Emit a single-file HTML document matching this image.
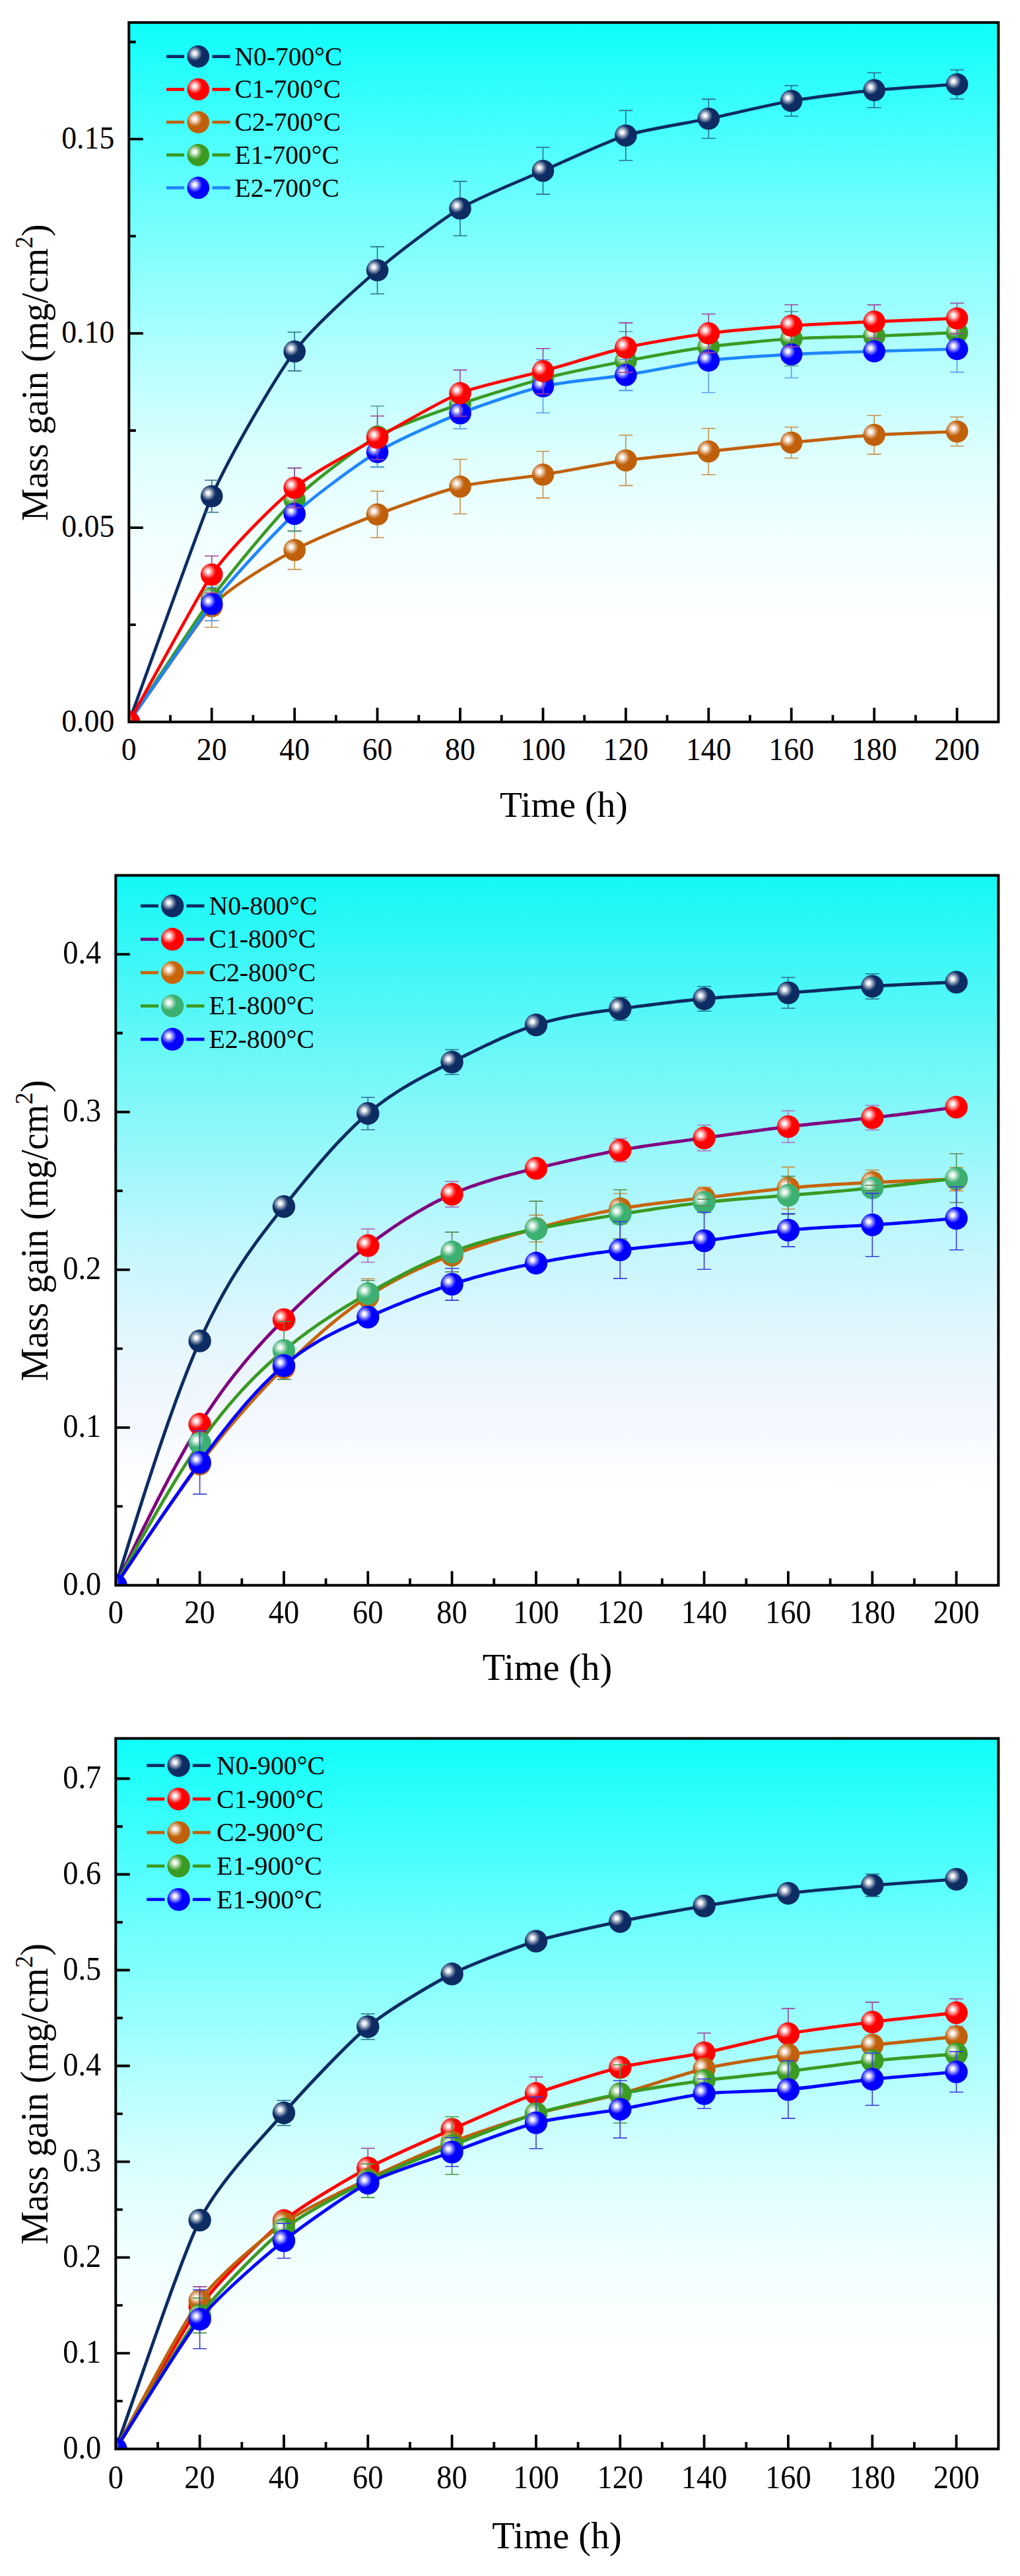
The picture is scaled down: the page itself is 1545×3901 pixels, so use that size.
<!DOCTYPE html>
<html lang="en"><head><meta charset="utf-8"><title>Mass gain vs time</title>
<style>html,body{margin:0;padding:0;background:#fff}svg{display:block}</style></head>
<body>
<svg width="1545" height="3901" viewBox="0 0 1545 3901">
<defs>
<linearGradient id="bg1" x1="0" y1="0" x2="0" y2="1"><stop offset="0" stop-color="rgb(14,254,250)"/><stop offset="0.25" stop-color="rgb(105,255,253)"/><stop offset="0.5" stop-color="rgb(187,255,254)"/><stop offset="0.63" stop-color="rgb(224,255,254)"/><stop offset="0.72" stop-color="rgb(239,255,255)"/><stop offset="0.8" stop-color="rgb(248,255,255)"/><stop offset="0.86" stop-color="rgb(255,255,255)"/><stop offset="1" stop-color="rgb(255,255,255)"/></linearGradient>
<clipPath id="cl1"><rect x="195.3" y="34.1" width="1317" height="1059.2"/></clipPath>
<radialGradient id="m1N0" cx="0.34" cy="0.36" r="0.34"><stop offset="0" stop-color="#fff"/><stop offset="0.2" stop-color="#fff" stop-opacity="0.95"/><stop offset="0.6" stop-color="#fff" stop-opacity="0.45"/><stop offset="1" stop-color="#fff" stop-opacity="0"/></radialGradient>
<radialGradient id="m1C2" cx="0.34" cy="0.36" r="0.34"><stop offset="0" stop-color="#fff"/><stop offset="0.2" stop-color="#fff" stop-opacity="0.95"/><stop offset="0.6" stop-color="#fff" stop-opacity="0.45"/><stop offset="1" stop-color="#fff" stop-opacity="0"/></radialGradient>
<radialGradient id="m1E1" cx="0.34" cy="0.36" r="0.34"><stop offset="0" stop-color="#fff"/><stop offset="0.2" stop-color="#fff" stop-opacity="0.95"/><stop offset="0.6" stop-color="#fff" stop-opacity="0.45"/><stop offset="1" stop-color="#fff" stop-opacity="0"/></radialGradient>
<radialGradient id="m1E2" cx="0.34" cy="0.36" r="0.34"><stop offset="0" stop-color="#fff"/><stop offset="0.2" stop-color="#fff" stop-opacity="0.95"/><stop offset="0.6" stop-color="#fff" stop-opacity="0.45"/><stop offset="1" stop-color="#fff" stop-opacity="0"/></radialGradient>
<radialGradient id="m1C1" cx="0.34" cy="0.36" r="0.34"><stop offset="0" stop-color="#fff"/><stop offset="0.2" stop-color="#fff" stop-opacity="0.95"/><stop offset="0.6" stop-color="#fff" stop-opacity="0.45"/><stop offset="1" stop-color="#fff" stop-opacity="0"/></radialGradient>
<linearGradient id="bg2" x1="0" y1="0" x2="0" y2="1"><stop offset="0" stop-color="rgb(18,248,246)"/><stop offset="0.255" stop-color="rgb(108,247,247)"/><stop offset="0.497" stop-color="rgb(188,247,253)"/><stop offset="0.627" stop-color="rgb(222,246,253)"/><stop offset="0.72" stop-color="rgb(239,246,253)"/><stop offset="0.78" stop-color="rgb(245,249,255)"/><stop offset="0.865" stop-color="rgb(255,255,255)"/><stop offset="1" stop-color="rgb(255,255,255)"/></linearGradient>
<clipPath id="cl2"><rect x="175.3" y="1325.6" width="1337" height="1075.1"/></clipPath>
<radialGradient id="m2N0" cx="0.34" cy="0.36" r="0.34"><stop offset="0" stop-color="#fff"/><stop offset="0.2" stop-color="#fff" stop-opacity="0.95"/><stop offset="0.6" stop-color="#fff" stop-opacity="0.45"/><stop offset="1" stop-color="#fff" stop-opacity="0"/></radialGradient>
<radialGradient id="m2C1" cx="0.34" cy="0.36" r="0.34"><stop offset="0" stop-color="#fff"/><stop offset="0.2" stop-color="#fff" stop-opacity="0.95"/><stop offset="0.6" stop-color="#fff" stop-opacity="0.45"/><stop offset="1" stop-color="#fff" stop-opacity="0"/></radialGradient>
<radialGradient id="m2C2" cx="0.34" cy="0.36" r="0.34"><stop offset="0" stop-color="#fff"/><stop offset="0.2" stop-color="#fff" stop-opacity="0.95"/><stop offset="0.6" stop-color="#fff" stop-opacity="0.45"/><stop offset="1" stop-color="#fff" stop-opacity="0"/></radialGradient>
<radialGradient id="m2E1" cx="0.34" cy="0.36" r="0.34"><stop offset="0" stop-color="#fff"/><stop offset="0.2" stop-color="#fff" stop-opacity="0.95"/><stop offset="0.6" stop-color="#fff" stop-opacity="0.45"/><stop offset="1" stop-color="#fff" stop-opacity="0"/></radialGradient>
<radialGradient id="m2E2" cx="0.34" cy="0.36" r="0.34"><stop offset="0" stop-color="#fff"/><stop offset="0.2" stop-color="#fff" stop-opacity="0.95"/><stop offset="0.6" stop-color="#fff" stop-opacity="0.45"/><stop offset="1" stop-color="#fff" stop-opacity="0"/></radialGradient>
<linearGradient id="bg3" x1="0" y1="0" x2="0" y2="1"><stop offset="0" stop-color="rgb(14,254,250)"/><stop offset="0.25" stop-color="rgb(105,255,253)"/><stop offset="0.5" stop-color="rgb(187,255,254)"/><stop offset="0.63" stop-color="rgb(224,255,254)"/><stop offset="0.72" stop-color="rgb(239,255,255)"/><stop offset="0.8" stop-color="rgb(248,255,255)"/><stop offset="0.86" stop-color="rgb(255,255,255)"/><stop offset="1" stop-color="rgb(255,255,255)"/></linearGradient>
<clipPath id="cl3"><rect x="175.3" y="2632.6" width="1337" height="1076"/></clipPath>
<radialGradient id="m3N0" cx="0.34" cy="0.36" r="0.34"><stop offset="0" stop-color="#fff"/><stop offset="0.2" stop-color="#fff" stop-opacity="0.95"/><stop offset="0.6" stop-color="#fff" stop-opacity="0.45"/><stop offset="1" stop-color="#fff" stop-opacity="0"/></radialGradient>
<radialGradient id="m3C1" cx="0.34" cy="0.36" r="0.34"><stop offset="0" stop-color="#fff"/><stop offset="0.2" stop-color="#fff" stop-opacity="0.95"/><stop offset="0.6" stop-color="#fff" stop-opacity="0.45"/><stop offset="1" stop-color="#fff" stop-opacity="0"/></radialGradient>
<radialGradient id="m3C2" cx="0.34" cy="0.36" r="0.34"><stop offset="0" stop-color="#fff"/><stop offset="0.2" stop-color="#fff" stop-opacity="0.95"/><stop offset="0.6" stop-color="#fff" stop-opacity="0.45"/><stop offset="1" stop-color="#fff" stop-opacity="0"/></radialGradient>
<radialGradient id="m3E1" cx="0.34" cy="0.36" r="0.34"><stop offset="0" stop-color="#fff"/><stop offset="0.2" stop-color="#fff" stop-opacity="0.95"/><stop offset="0.6" stop-color="#fff" stop-opacity="0.45"/><stop offset="1" stop-color="#fff" stop-opacity="0"/></radialGradient>
<radialGradient id="m3E2" cx="0.34" cy="0.36" r="0.34"><stop offset="0" stop-color="#fff"/><stop offset="0.2" stop-color="#fff" stop-opacity="0.95"/><stop offset="0.6" stop-color="#fff" stop-opacity="0.45"/><stop offset="1" stop-color="#fff" stop-opacity="0"/></radialGradient>
</defs>
<rect width="1545" height="3901" fill="#fff"/>
<g id="chart1">
<rect x="195.3" y="34.1" width="1317" height="1059.2" fill="url(#bg1)"/>
<g clip-path="url(#cl1)">
<path d="M195.3 1093.3C224.6 1013.5 307.6 781 320.7 751.5C350 686 416.9 572.2 446.2 532.3C475.4 492.4 542.3 434.6 571.6 409.3C600.9 384 667.8 333.4 697 315.8C726.3 298.2 793.2 271.6 822.5 258.7C851.7 245.8 918.6 214.4 947.9 205.2C977.1 196 1044 185.9 1073.3 179.8C1102.6 173.7 1169.5 157.8 1198.7 152.8C1228 147.8 1294.9 139.5 1324.2 136.6C1353.4 133.7 1420.3 129.8 1449.6 127.7" fill="none" stroke="#0c2c63" stroke-width="4.7" stroke-linejoin="round"/>
<circle cx="195.3" cy="1093.3" r="16.8" fill="#0c2c63"/><circle cx="195.3" cy="1093.3" r="16.8" fill="url(#m1N0)"/>
<circle cx="320.7" cy="751.5" r="16.8" fill="#0c2c63"/><circle cx="320.7" cy="751.5" r="16.8" fill="url(#m1N0)"/>
<circle cx="446.2" cy="532.3" r="16.8" fill="#0c2c63"/><circle cx="446.2" cy="532.3" r="16.8" fill="url(#m1N0)"/>
<circle cx="571.6" cy="409.3" r="16.8" fill="#0c2c63"/><circle cx="571.6" cy="409.3" r="16.8" fill="url(#m1N0)"/>
<circle cx="697" cy="315.8" r="16.8" fill="#0c2c63"/><circle cx="697" cy="315.8" r="16.8" fill="url(#m1N0)"/>
<circle cx="822.5" cy="258.7" r="16.8" fill="#0c2c63"/><circle cx="822.5" cy="258.7" r="16.8" fill="url(#m1N0)"/>
<circle cx="947.9" cy="205.2" r="16.8" fill="#0c2c63"/><circle cx="947.9" cy="205.2" r="16.8" fill="url(#m1N0)"/>
<circle cx="1073.3" cy="179.8" r="16.8" fill="#0c2c63"/><circle cx="1073.3" cy="179.8" r="16.8" fill="url(#m1N0)"/>
<circle cx="1198.7" cy="152.8" r="16.8" fill="#0c2c63"/><circle cx="1198.7" cy="152.8" r="16.8" fill="url(#m1N0)"/>
<circle cx="1324.2" cy="136.6" r="16.8" fill="#0c2c63"/><circle cx="1324.2" cy="136.6" r="16.8" fill="url(#m1N0)"/>
<circle cx="1449.6" cy="127.7" r="16.8" fill="#0c2c63"/><circle cx="1449.6" cy="127.7" r="16.8" fill="url(#m1N0)"/>
<path d="M320.7 727.3V735.2M320.7 767.8V775.7M310.2 727.3H331.2M310.2 775.7H331.2M446.2 503V516M446.2 548.6V561.6M435.7 503H456.7M435.7 561.6H456.7M571.6 373.6V393M571.6 425.6V445M561.1 373.6H582.1M561.1 445H582.1M697 274.6V299.5M697 332.1V357M686.5 274.6H707.5M686.5 357H707.5M822.5 223.3V242.4M822.5 275V294.1M812 223.3H833M812 294.1H833M947.9 167.4V188.9M947.9 221.5V243M937.4 167.4H958.4M937.4 243H958.4M1073.3 150.1V163.5M1073.3 196.1V209.5M1062.8 150.1H1083.8M1062.8 209.5H1083.8M1198.7 129.6V136.5M1198.7 169.1V176M1188.2 129.6H1209.2M1188.2 176H1209.2M1324.2 110.2V120.3M1324.2 152.9V163M1313.7 110.2H1334.7M1313.7 163H1334.7M1449.6 105.7V111.4M1449.6 144V149.7M1439.1 105.7H1460.1M1439.1 149.7H1460.1" fill="none" stroke="#2a6f8c" stroke-width="1.6"/>
<path d="M195.3 1093.3C224.6 1052.4 307.6 931.7 320.7 918C350 887.6 416.9 849.2 446.2 833C475.4 816.8 542.3 790.2 571.6 779C600.9 767.8 667.8 743.9 697 736.9C726.3 729.9 793.2 723.4 822.5 718.8C851.7 714.2 918.6 701.3 947.9 697.2C977.1 693.1 1044 686.9 1073.3 683.7C1102.6 680.6 1169.5 673.1 1198.7 670.2C1228 667.3 1294.9 660.5 1324.2 658.6C1353.4 656.7 1420.3 654.7 1449.6 653.5" fill="none" stroke="#c0600a" stroke-width="4.7" stroke-linejoin="round"/>
<circle cx="195.3" cy="1093.3" r="16.8" fill="#c0600a"/><circle cx="195.3" cy="1093.3" r="16.8" fill="url(#m1C2)"/>
<circle cx="320.7" cy="918" r="16.8" fill="#c0600a"/><circle cx="320.7" cy="918" r="16.8" fill="url(#m1C2)"/>
<circle cx="446.2" cy="833" r="16.8" fill="#c0600a"/><circle cx="446.2" cy="833" r="16.8" fill="url(#m1C2)"/>
<circle cx="571.6" cy="779" r="16.8" fill="#c0600a"/><circle cx="571.6" cy="779" r="16.8" fill="url(#m1C2)"/>
<circle cx="697" cy="736.9" r="16.8" fill="#c0600a"/><circle cx="697" cy="736.9" r="16.8" fill="url(#m1C2)"/>
<circle cx="822.5" cy="718.8" r="16.8" fill="#c0600a"/><circle cx="822.5" cy="718.8" r="16.8" fill="url(#m1C2)"/>
<circle cx="947.9" cy="697.2" r="16.8" fill="#c0600a"/><circle cx="947.9" cy="697.2" r="16.8" fill="url(#m1C2)"/>
<circle cx="1073.3" cy="683.7" r="16.8" fill="#c0600a"/><circle cx="1073.3" cy="683.7" r="16.8" fill="url(#m1C2)"/>
<circle cx="1198.7" cy="670.2" r="16.8" fill="#c0600a"/><circle cx="1198.7" cy="670.2" r="16.8" fill="url(#m1C2)"/>
<circle cx="1324.2" cy="658.6" r="16.8" fill="#c0600a"/><circle cx="1324.2" cy="658.6" r="16.8" fill="url(#m1C2)"/>
<circle cx="1449.6" cy="653.5" r="16.8" fill="#c0600a"/><circle cx="1449.6" cy="653.5" r="16.8" fill="url(#m1C2)"/>
<path d="M320.7 886V901.7M320.7 934.3V950M310.2 886H331.2M310.2 950H331.2M446.2 803.6V816.7M446.2 849.3V862.4M435.7 803.6H456.7M435.7 862.4H456.7M571.6 743.7V762.7M571.6 795.3V814.3M561.1 743.7H582.1M561.1 814.3H582.1M697 695.5V720.6M697 753.2V778.3M686.5 695.5H707.5M686.5 778.3H707.5M822.5 683.5V702.5M822.5 735.1V754.1M812 683.5H833M812 754.1H833M947.9 659V680.9M947.9 713.5V735.4M937.4 659H958.4M937.4 735.4H958.4M1073.3 648.7V667.4M1073.3 700V718.7M1062.8 648.7H1083.8M1062.8 718.7H1083.8M1198.7 646.7V653.9M1198.7 686.5V693.7M1188.2 646.7H1209.2M1188.2 693.7H1209.2M1324.2 629.3V642.3M1324.2 674.9V687.9M1313.7 629.3H1334.7M1313.7 687.9H1334.7M1449.6 631.5V637.2M1449.6 669.8V675.5M1439.1 631.5H1460.1M1439.1 675.5H1460.1" fill="none" stroke="#c89048" stroke-width="1.6"/>
<path d="M195.3 1093.3C224.6 1049.5 307.6 923.4 320.7 905.7C350 866.4 416.9 785.1 446.2 756.6C475.4 728.1 542.3 677.9 571.6 661C600.9 644.1 667.8 622.2 697 612C726.3 601.8 793.2 581.1 822.5 573.5C851.7 565.9 918.6 552.4 947.9 546.8C977.1 541.2 1044 529.1 1073.3 525.2C1102.6 521.3 1169.5 514.9 1198.7 513C1228 511.1 1294.9 510.1 1324.2 509C1353.4 507.9 1420.3 504.9 1449.6 503.7" fill="none" stroke="#3a9a22" stroke-width="4.7" stroke-linejoin="round"/>
<circle cx="195.3" cy="1093.3" r="16.8" fill="#3a9a22"/><circle cx="195.3" cy="1093.3" r="16.8" fill="url(#m1E1)"/>
<circle cx="320.7" cy="905.7" r="16.8" fill="#3a9a22"/><circle cx="320.7" cy="905.7" r="16.8" fill="url(#m1E1)"/>
<circle cx="446.2" cy="756.6" r="16.8" fill="#3a9a22"/><circle cx="446.2" cy="756.6" r="16.8" fill="url(#m1E1)"/>
<circle cx="571.6" cy="661" r="16.8" fill="#3a9a22"/><circle cx="571.6" cy="661" r="16.8" fill="url(#m1E1)"/>
<circle cx="697" cy="612" r="16.8" fill="#3a9a22"/><circle cx="697" cy="612" r="16.8" fill="url(#m1E1)"/>
<circle cx="822.5" cy="573.5" r="16.8" fill="#3a9a22"/><circle cx="822.5" cy="573.5" r="16.8" fill="url(#m1E1)"/>
<circle cx="947.9" cy="546.8" r="16.8" fill="#3a9a22"/><circle cx="947.9" cy="546.8" r="16.8" fill="url(#m1E1)"/>
<circle cx="1073.3" cy="525.2" r="16.8" fill="#3a9a22"/><circle cx="1073.3" cy="525.2" r="16.8" fill="url(#m1E1)"/>
<circle cx="1198.7" cy="513" r="16.8" fill="#3a9a22"/><circle cx="1198.7" cy="513" r="16.8" fill="url(#m1E1)"/>
<circle cx="1324.2" cy="509" r="16.8" fill="#3a9a22"/><circle cx="1324.2" cy="509" r="16.8" fill="url(#m1E1)"/>
<circle cx="1449.6" cy="503.7" r="16.8" fill="#3a9a22"/><circle cx="1449.6" cy="503.7" r="16.8" fill="url(#m1E1)"/>
<path d="M320.7 871.7V889.4M320.7 922V939.7M310.2 871.7H331.2M310.2 939.7H331.2M446.2 708.6V740.3M446.2 772.9V804.6M435.7 708.6H456.7M435.7 804.6H456.7M571.6 615V644.7M571.6 677.3V707M561.1 615H582.1M561.1 707H582.1M947.9 502.2V530.5M947.9 563.1V591.4M937.4 502.2H958.4M937.4 591.4H958.4M1198.7 471.7V496.7M1198.7 529.3V554.3M1188.2 471.7H1209.2M1188.2 554.3H1209.2" fill="none" stroke="#4aa09a" stroke-width="1.6"/>
<path d="M195.3 1093.3C224.6 1051.6 307.6 931.1 320.7 914.6C350 877.8 416.9 805 446.2 778.2C475.4 751.4 542.3 702.4 571.6 684.6C600.9 666.8 667.8 637.6 697 626C726.3 614.4 793.2 591.8 822.5 585C851.7 578.2 918.6 572.4 947.9 567.9C977.1 563.4 1044 549.7 1073.3 546.1C1102.6 542.5 1169.5 538.3 1198.7 536.7C1228 535.1 1294.9 532.9 1324.2 532C1353.4 531.1 1420.3 529.4 1449.6 528.6" fill="none" stroke="#1e86ff" stroke-width="4.7" stroke-linejoin="round"/>
<circle cx="195.3" cy="1093.3" r="16.8" fill="#0000ff"/><circle cx="195.3" cy="1093.3" r="16.8" fill="url(#m1E2)"/>
<circle cx="320.7" cy="914.6" r="16.8" fill="#0000ff"/><circle cx="320.7" cy="914.6" r="16.8" fill="url(#m1E2)"/>
<circle cx="446.2" cy="778.2" r="16.8" fill="#0000ff"/><circle cx="446.2" cy="778.2" r="16.8" fill="url(#m1E2)"/>
<circle cx="571.6" cy="684.6" r="16.8" fill="#0000ff"/><circle cx="571.6" cy="684.6" r="16.8" fill="url(#m1E2)"/>
<circle cx="697" cy="626" r="16.8" fill="#0000ff"/><circle cx="697" cy="626" r="16.8" fill="url(#m1E2)"/>
<circle cx="822.5" cy="585" r="16.8" fill="#0000ff"/><circle cx="822.5" cy="585" r="16.8" fill="url(#m1E2)"/>
<circle cx="947.9" cy="567.9" r="16.8" fill="#0000ff"/><circle cx="947.9" cy="567.9" r="16.8" fill="url(#m1E2)"/>
<circle cx="1073.3" cy="546.1" r="16.8" fill="#0000ff"/><circle cx="1073.3" cy="546.1" r="16.8" fill="url(#m1E2)"/>
<circle cx="1198.7" cy="536.7" r="16.8" fill="#0000ff"/><circle cx="1198.7" cy="536.7" r="16.8" fill="url(#m1E2)"/>
<circle cx="1324.2" cy="532" r="16.8" fill="#0000ff"/><circle cx="1324.2" cy="532" r="16.8" fill="url(#m1E2)"/>
<circle cx="1449.6" cy="528.6" r="16.8" fill="#0000ff"/><circle cx="1449.6" cy="528.6" r="16.8" fill="url(#m1E2)"/>
<path d="M320.7 889.2V898.3M320.7 930.9V940M310.2 889.2H331.2M310.2 940H331.2M571.6 661.6V668.3M571.6 700.9V707.6M561.1 661.6H582.1M561.1 707.6H582.1M697 602.6V609.7M697 642.3V649.4M686.5 602.6H707.5M686.5 649.4H707.5M822.5 544.7V568.7M822.5 601.3V625.3M812 544.7H833M812 625.3H833M947.9 544.4V551.6M947.9 584.2V591.4M937.4 544.4H958.4M937.4 591.4H958.4M1073.3 497.7V529.8M1073.3 562.4V594.5M1062.8 497.7H1083.8M1062.8 594.5H1083.8M1198.7 501.1V520.4M1198.7 553V572.3M1188.2 501.1H1209.2M1188.2 572.3H1209.2M1449.6 493.6V512.3M1449.6 544.9V563.6M1439.1 493.6H1460.1M1439.1 563.6H1460.1" fill="none" stroke="#5a9cf0" stroke-width="1.6"/>
<path d="M195.3 1093.3C224.6 1041.2 307.6 888.6 320.7 870C350 828.6 416.9 762.9 446.2 738.7C475.4 714.6 542.3 679.7 571.6 663C600.9 646.3 667.8 607.2 697 595.4C726.3 583.6 793.2 570.1 822.5 562.1C851.7 554.1 918.6 533.1 947.9 526.4C977.1 519.7 1044 508.7 1073.3 504.8C1102.6 500.9 1169.5 495.4 1198.7 493.3C1228 491.2 1294.9 488.4 1324.2 487.1C1353.4 485.8 1420.3 483.3 1449.6 482.2" fill="none" stroke="#ff0000" stroke-width="4.7" stroke-linejoin="round"/>
<circle cx="195.3" cy="1093.3" r="16.8" fill="#ff0000"/><circle cx="195.3" cy="1093.3" r="16.8" fill="url(#m1C1)"/>
<circle cx="320.7" cy="870" r="16.8" fill="#ff0000"/><circle cx="320.7" cy="870" r="16.8" fill="url(#m1C1)"/>
<circle cx="446.2" cy="738.7" r="16.8" fill="#ff0000"/><circle cx="446.2" cy="738.7" r="16.8" fill="url(#m1C1)"/>
<circle cx="571.6" cy="663" r="16.8" fill="#ff0000"/><circle cx="571.6" cy="663" r="16.8" fill="url(#m1C1)"/>
<circle cx="697" cy="595.4" r="16.8" fill="#ff0000"/><circle cx="697" cy="595.4" r="16.8" fill="url(#m1C1)"/>
<circle cx="822.5" cy="562.1" r="16.8" fill="#ff0000"/><circle cx="822.5" cy="562.1" r="16.8" fill="url(#m1C1)"/>
<circle cx="947.9" cy="526.4" r="16.8" fill="#ff0000"/><circle cx="947.9" cy="526.4" r="16.8" fill="url(#m1C1)"/>
<circle cx="1073.3" cy="504.8" r="16.8" fill="#ff0000"/><circle cx="1073.3" cy="504.8" r="16.8" fill="url(#m1C1)"/>
<circle cx="1198.7" cy="493.3" r="16.8" fill="#ff0000"/><circle cx="1198.7" cy="493.3" r="16.8" fill="url(#m1C1)"/>
<circle cx="1324.2" cy="487.1" r="16.8" fill="#ff0000"/><circle cx="1324.2" cy="487.1" r="16.8" fill="url(#m1C1)"/>
<circle cx="1449.6" cy="482.2" r="16.8" fill="#ff0000"/><circle cx="1449.6" cy="482.2" r="16.8" fill="url(#m1C1)"/>
<path d="M320.7 842V853.7M320.7 886.3V898M310.2 842H331.2M310.2 898H331.2M446.2 708.7V722.4M446.2 755V768.7M435.7 708.7H456.7M435.7 768.7H456.7M571.6 630V646.7M571.6 679.3V696M561.1 630H582.1M561.1 696H582.1M697 560.4V579.1M697 611.7V630.4M686.5 560.4H707.5M686.5 630.4H707.5M822.5 527.7V545.8M822.5 578.4V596.5M812 527.7H833M812 596.5H833M947.9 488.9V510.1M947.9 542.7V563.9M937.4 488.9H958.4M937.4 563.9H958.4M1073.3 475.5V488.5M1073.3 521.1V534.1M1062.8 475.5H1083.8M1062.8 534.1H1083.8M1198.7 461.5V477M1198.7 509.6V525.1M1188.2 461.5H1209.2M1188.2 525.1H1209.2M1324.2 461.6V470.8M1324.2 503.4V512.6M1313.7 461.6H1334.7M1313.7 512.6H1334.7M1449.6 459V465.9M1449.6 498.5V505.4M1439.1 459H1460.1M1439.1 505.4H1460.1" fill="none" stroke="#a0409c" stroke-width="1.6"/>
</g>
<rect x="195.3" y="34.1" width="1317" height="1059.2" fill="none" stroke="#000" stroke-width="4.0"/>
<path d="M258 1093.3v-10.5M320.7 1093.3v-21.5M383.4 1093.3v-10.5M446.2 1093.3v-21.5M508.9 1093.3v-10.5M571.6 1093.3v-21.5M634.3 1093.3v-10.5M697 1093.3v-21.5M759.7 1093.3v-10.5M822.5 1093.3v-21.5M885.2 1093.3v-10.5M947.9 1093.3v-21.5M1010.6 1093.3v-10.5M1073.3 1093.3v-21.5M1136 1093.3v-10.5M1198.7 1093.3v-21.5M1261.5 1093.3v-10.5M1324.2 1093.3v-21.5M1386.9 1093.3v-10.5M1449.6 1093.3v-21.5M195.3 799.1h21.5M195.3 504.9h21.5M195.3 210.6h21.5M195.3 946.2h10.5M195.3 652h10.5M195.3 357.7h10.5M195.3 63.5h10.5" fill="none" stroke="#000" stroke-width="3.8"/>
<g font-family='"Liberation Serif","Times New Roman",serif' font-size="45.8" fill="#000">
<text transform="translate(195.3 1150.6) scale(1 1.08)" text-anchor="middle">0</text>
<text transform="translate(320.7 1150.6) scale(1 1.08)" text-anchor="middle">20</text>
<text transform="translate(446.2 1150.6) scale(1 1.08)" text-anchor="middle">40</text>
<text transform="translate(571.6 1150.6) scale(1 1.08)" text-anchor="middle">60</text>
<text transform="translate(697 1150.6) scale(1 1.08)" text-anchor="middle">80</text>
<text transform="translate(822.5 1150.6) scale(1 1.08)" text-anchor="middle">100</text>
<text transform="translate(947.9 1150.6) scale(1 1.08)" text-anchor="middle">120</text>
<text transform="translate(1073.3 1150.6) scale(1 1.08)" text-anchor="middle">140</text>
<text transform="translate(1198.7 1150.6) scale(1 1.08)" text-anchor="middle">160</text>
<text transform="translate(1324.2 1150.6) scale(1 1.08)" text-anchor="middle">180</text>
<text transform="translate(1449.6 1150.6) scale(1 1.08)" text-anchor="middle">200</text>
<text transform="translate(173.3 1107.5) scale(1 1.08)" text-anchor="end">0.00</text>
<text transform="translate(173.3 813.3) scale(1 1.08)" text-anchor="end">0.05</text>
<text transform="translate(173.3 519.1) scale(1 1.08)" text-anchor="end">0.10</text>
<text transform="translate(173.3 224.8) scale(1 1.08)" text-anchor="end">0.15</text>
</g>
<text x="853.9" y="1237.2" text-anchor="middle" font-family='"Liberation Serif","Times New Roman",serif' font-size="55.5" fill="#000">Time (h)</text>
<text transform="translate(71.6 564.2) rotate(-90) scale(1 1.04)" text-anchor="middle" font-family='"Liberation Serif","Times New Roman",serif' font-size="55.5" fill="#000">Mass gain (mg/cm<tspan dy="-22" font-size="36.0">2</tspan><tspan dy="22">)</tspan></text>
<g font-family='"Liberation Serif","Times New Roman",serif' font-size="39.5" fill="#000">
<path d="M252 85.6H279.1M321.5 85.6H348.6" stroke="#0c2c63" stroke-width="4.7"/>
<circle cx="300.3" cy="85.6" r="16.8" fill="#0c2c63"/><circle cx="300.3" cy="85.6" r="16.8" fill="url(#m1N0)"/>
<text x="355.5" y="98.7">N0-700°C</text>
<path d="M252 135.3H279.1M321.5 135.3H348.6" stroke="#ff0000" stroke-width="4.7"/>
<circle cx="300.3" cy="135.3" r="16.8" fill="#ff0000"/><circle cx="300.3" cy="135.3" r="16.8" fill="url(#m1C1)"/>
<text x="355.5" y="148.4">C1-700°C</text>
<path d="M252 185H279.1M321.5 185H348.6" stroke="#c0600a" stroke-width="4.7"/>
<circle cx="300.3" cy="185" r="16.8" fill="#c0600a"/><circle cx="300.3" cy="185" r="16.8" fill="url(#m1C2)"/>
<text x="355.5" y="198.1">C2-700°C</text>
<path d="M252 234.7H279.1M321.5 234.7H348.6" stroke="#3a9a22" stroke-width="4.7"/>
<circle cx="300.3" cy="234.7" r="16.8" fill="#3a9a22"/><circle cx="300.3" cy="234.7" r="16.8" fill="url(#m1E1)"/>
<text x="355.5" y="247.8">E1-700°C</text>
<path d="M252 284.4H279.1M321.5 284.4H348.6" stroke="#1e86ff" stroke-width="4.7"/>
<circle cx="300.3" cy="284.4" r="16.8" fill="#0000ff"/><circle cx="300.3" cy="284.4" r="16.8" fill="url(#m1E2)"/>
<text x="355.5" y="297.5">E2-700°C</text>
</g>
</g>
<g id="chart2">
<rect x="175.3" y="1325.6" width="1337" height="1075.1" fill="url(#bg2)"/>
<g clip-path="url(#cl2)">
<path d="M175.3 2400.7L180.6 2383.6L185.9 2366.4L191.2 2349.4L196.5 2332.3L201.8 2315.4L207.1 2298.5L212.4 2281.7L217.7 2265.1L223 2248.6L228.4 2232.3L233.7 2216.1L239 2200.1L244.3 2184.4L249.6 2168.9L254.9 2153.6L260.2 2138.7L265.5 2124L270.8 2109.6L276.1 2095.5L281.4 2081.8L286.7 2068.4L292 2055.4L297.3 2042.8L302.6 2030.6L307.9 2018.8L313.2 2007.5L318.5 1996.5L323.9 1986L329.2 1975.7L334.5 1965.9L339.8 1956.3L345.1 1947.1L350.4 1938.1L355.7 1929.5L361 1921.1L366.3 1912.9L371.6 1904.9L376.9 1897.2L382.2 1889.6L387.5 1882.2L392.8 1875L398.1 1867.9L403.4 1860.9L408.7 1854.1L414 1847.3L419.3 1840.5L424.7 1833.8L430 1827.2L435.3 1820.6L440.6 1814L445.9 1807.4L451.2 1800.8L456.5 1794.3L461.8 1787.8L467.1 1781.4L472.4 1775.1L477.7 1768.8L483 1762.6L488.3 1756.4L493.6 1750.3L498.9 1744.4L504.2 1738.5L509.5 1732.7L514.8 1727L520.2 1721.5L525.5 1716L530.8 1710.7L536.1 1705.5L541.4 1700.5L546.7 1695.6L552 1690.8L557.3 1686.2L562.6 1681.8L567.9 1677.5L573.2 1673.3L578.5 1669.4L583.8 1665.5L589.1 1661.8L594.4 1658.2L599.7 1654.7L605 1651.3L610.3 1648L615.6 1644.8L621 1641.7L626.3 1638.6L631.6 1635.7L636.9 1632.8L642.2 1629.9L647.5 1627.1L652.8 1624.4L658.1 1621.7L663.4 1619L668.7 1616.3L674 1613.7L679.3 1611L684.6 1608.4L689.9 1605.8L695.2 1603.1L700.5 1600.5L705.8 1597.8L711.1 1595.2L716.5 1592.6L721.8 1590L727.1 1587.4L732.4 1584.9L737.7 1582.3L743 1579.9L748.3 1577.4L753.6 1575L758.9 1572.6L764.2 1570.3L769.5 1568L774.8 1565.8L780.1 1563.6L785.4 1561.5L790.7 1559.5L796 1557.5L801.3 1555.6L806.6 1553.8L812 1552.1L817.3 1550.5L822.6 1548.9L827.9 1547.4L833.2 1546L838.5 1544.6L843.8 1543.4L849.1 1542.2L854.4 1541L859.7 1539.9L865 1538.9L870.3 1537.9L875.6 1536.9L880.9 1536L886.2 1535.1L891.5 1534.3L896.8 1533.5L902.1 1532.7L907.4 1532L912.8 1531.2L918.1 1530.5L923.4 1529.8L928.7 1529.1L934 1528.4L939.3 1527.7L944.6 1527L949.9 1526.3L955.2 1525.6L960.5 1524.9L965.8 1524.2L971.1 1523.5L976.4 1522.8L981.7 1522.2L987 1521.5L992.3 1520.8L997.6 1520.1L1002.9 1519.5L1008.3 1518.8L1013.6 1518.2L1018.9 1517.6L1024.2 1516.9L1029.5 1516.3L1034.8 1515.7L1040.1 1515.2L1045.4 1514.6L1050.7 1514L1056 1513.5L1061.3 1513L1066.6 1512.5L1071.9 1512L1077.2 1511.6L1082.5 1511.1L1087.8 1510.7L1093.1 1510.3L1098.4 1509.9L1103.7 1509.5L1109.1 1509.1L1114.4 1508.7L1119.7 1508.4L1125 1508L1130.3 1507.7L1135.6 1507.3L1140.9 1507L1146.2 1506.6L1151.5 1506.3L1156.8 1506L1162.1 1505.6L1167.4 1505.3L1172.7 1504.9L1178 1504.6L1183.3 1504.2L1188.6 1503.9L1193.9 1503.5L1199.2 1503.1L1204.6 1502.7L1209.9 1502.3L1215.2 1501.9L1220.5 1501.5L1225.8 1501.1L1231.1 1500.7L1236.4 1500.3L1241.7 1499.8L1247 1499.4L1252.3 1499L1257.6 1498.5L1262.9 1498.1L1268.2 1497.7L1273.5 1497.3L1278.8 1496.8L1284.1 1496.4L1289.4 1496L1294.7 1495.6L1300 1495.2L1305.4 1494.8L1310.7 1494.4L1316 1494.1L1321.3 1493.7L1326.8 1493.3L1332.3 1493L1337.9 1492.6L1343.4 1492.3L1349 1492L1354.5 1491.7L1360 1491.4L1365.6 1491.1L1371.1 1490.8L1376.6 1490.5L1382.2 1490.3L1387.7 1490L1393.2 1489.7L1398.8 1489.5L1404.3 1489.3L1409.8 1489L1415.4 1488.8L1420.9 1488.5L1426.5 1488.3L1432 1488.1L1437.5 1487.9L1443.1 1487.6L1448.6 1487.4" fill="none" stroke="#0c2c63" stroke-width="4.89" stroke-linejoin="round"/>
<circle cx="175.3" cy="2400.7" r="17.2" fill="#0c2c63"/><circle cx="175.3" cy="2400.7" r="17.2" fill="url(#m2N0)"/>
<circle cx="302.6" cy="2030.6" r="17.2" fill="#0c2c63"/><circle cx="302.6" cy="2030.6" r="17.2" fill="url(#m2N0)"/>
<circle cx="430" cy="1827.2" r="17.2" fill="#0c2c63"/><circle cx="430" cy="1827.2" r="17.2" fill="url(#m2N0)"/>
<circle cx="557.3" cy="1686.2" r="17.2" fill="#0c2c63"/><circle cx="557.3" cy="1686.2" r="17.2" fill="url(#m2N0)"/>
<circle cx="684.6" cy="1608.4" r="17.2" fill="#0c2c63"/><circle cx="684.6" cy="1608.4" r="17.2" fill="url(#m2N0)"/>
<circle cx="812" cy="1552.1" r="17.2" fill="#0c2c63"/><circle cx="812" cy="1552.1" r="17.2" fill="url(#m2N0)"/>
<circle cx="939.3" cy="1527.7" r="17.2" fill="#0c2c63"/><circle cx="939.3" cy="1527.7" r="17.2" fill="url(#m2N0)"/>
<circle cx="1066.6" cy="1512.5" r="17.2" fill="#0c2c63"/><circle cx="1066.6" cy="1512.5" r="17.2" fill="url(#m2N0)"/>
<circle cx="1193.9" cy="1503.5" r="17.2" fill="#0c2c63"/><circle cx="1193.9" cy="1503.5" r="17.2" fill="url(#m2N0)"/>
<circle cx="1321.3" cy="1493.7" r="17.2" fill="#0c2c63"/><circle cx="1321.3" cy="1493.7" r="17.2" fill="url(#m2N0)"/>
<circle cx="1448.6" cy="1487.4" r="17.2" fill="#0c2c63"/><circle cx="1448.6" cy="1487.4" r="17.2" fill="url(#m2N0)"/>
<path d="M557.3 1661.7V1669.5M557.3 1702.9V1710.7M546.8 1661.7H567.8M546.8 1710.7H567.8M684.6 1589.5V1591.7M684.6 1625.1V1627.3M674.1 1589.5H695.1M674.1 1627.3H695.1M939.3 1510.2V1511M939.3 1544.4V1545.2M928.8 1510.2H949.8M928.8 1545.2H949.8M1066.6 1493.8V1495.8M1066.6 1529.2V1531.2M1056.1 1493.8H1077.1M1056.1 1531.2H1077.1M1193.9 1480.3V1486.8M1193.9 1520.2V1526.7M1183.4 1480.3H1204.4M1183.4 1526.7H1204.4M1321.3 1474.7V1477M1321.3 1510.4V1512.7M1310.8 1474.7H1331.8M1310.8 1512.7H1331.8" fill="none" stroke="#2a6f8c" stroke-width="1.6"/>
<path d="M175.3 2400.7L180.6 2389.7L185.9 2378.7L191.2 2367.7L196.5 2356.8L201.8 2345.9L207.1 2335L212.4 2324.2L217.7 2313.4L223 2302.8L228.4 2292.2L233.7 2281.6L239 2271.2L244.3 2260.9L249.6 2250.7L254.9 2240.6L260.2 2230.7L265.5 2220.8L270.8 2211.2L276.1 2201.7L281.4 2192.3L286.7 2183.2L292 2174.2L297.3 2165.4L302.6 2156.8L307.9 2148.4L313.2 2140.2L318.5 2132.3L323.9 2124.5L329.2 2116.8L334.5 2109.4L339.8 2102.1L345.1 2095.1L350.4 2088.1L355.7 2081.3L361 2074.7L366.3 2068.2L371.6 2061.8L376.9 2055.5L382.2 2049.4L387.5 2043.4L392.8 2037.5L398.1 2031.7L403.4 2025.9L408.7 2020.3L414 2014.7L419.3 2009.3L424.7 2003.9L430 1998.5L435.3 1993.2L440.6 1988L445.9 1982.8L451.2 1977.6L456.5 1972.5L461.8 1967.5L467.1 1962.5L472.4 1957.6L477.7 1952.8L483 1948L488.3 1943.2L493.6 1938.5L498.9 1933.8L504.2 1929.2L509.5 1924.7L514.8 1920.2L520.2 1915.8L525.5 1911.4L530.8 1907.1L536.1 1902.8L541.4 1898.6L546.7 1894.5L552 1890.3L557.3 1886.3L562.6 1882.3L567.9 1878.4L573.2 1874.5L578.5 1870.7L583.8 1866.9L589.1 1863.2L594.4 1859.6L599.7 1856L605 1852.5L610.3 1849L615.6 1845.6L621 1842.3L626.3 1839.1L631.6 1835.9L636.9 1832.8L642.2 1829.8L647.5 1826.9L652.8 1824L658.1 1821.2L663.4 1818.5L668.7 1815.9L674 1813.3L679.3 1810.9L684.6 1808.5L689.9 1806.2L695.2 1804L700.5 1801.9L705.8 1799.8L711.1 1797.8L716.5 1795.9L721.8 1794.1L727.1 1792.3L732.4 1790.6L737.7 1788.9L743 1787.3L748.3 1785.7L753.6 1784.2L758.9 1782.7L764.2 1781.2L769.5 1779.8L774.8 1778.4L780.1 1777.1L785.4 1775.7L790.7 1774.4L796 1773.1L801.3 1771.8L806.6 1770.6L812 1769.3L817.3 1768L822.6 1766.8L827.9 1765.5L833.2 1764.3L838.5 1763L843.8 1761.8L849.1 1760.6L854.4 1759.3L859.7 1758.1L865 1756.9L870.3 1755.8L875.6 1754.6L880.9 1753.4L886.2 1752.3L891.5 1751.1L896.8 1750L902.1 1748.9L907.4 1747.9L912.8 1746.8L918.1 1745.7L923.4 1744.7L928.7 1743.7L934 1742.8L939.3 1741.8L944.6 1740.9L949.9 1740L955.2 1739.1L960.5 1738.2L965.8 1737.4L971.1 1736.5L976.4 1735.7L981.7 1734.9L987 1734.2L992.3 1733.4L997.6 1732.6L1002.9 1731.9L1008.3 1731.1L1013.6 1730.4L1018.9 1729.7L1024.2 1729L1029.5 1728.3L1034.8 1727.6L1040.1 1726.9L1045.4 1726.1L1050.7 1725.4L1056 1724.7L1061.3 1724L1066.6 1723.3L1071.9 1722.6L1077.2 1721.9L1082.5 1721.1L1087.8 1720.4L1093.1 1719.7L1098.4 1718.9L1103.7 1718.2L1109.1 1717.4L1114.4 1716.7L1119.7 1716L1125 1715.2L1130.3 1714.5L1135.6 1713.8L1140.9 1713L1146.2 1712.3L1151.5 1711.6L1156.8 1710.9L1162.1 1710.2L1167.4 1709.5L1172.7 1708.8L1178 1708.2L1183.3 1707.5L1188.6 1706.8L1193.9 1706.2L1199.2 1705.6L1204.6 1705L1209.9 1704.4L1215.2 1703.8L1220.5 1703.2L1225.8 1702.6L1231.1 1702L1236.4 1701.5L1241.7 1700.9L1247 1700.4L1252.3 1699.8L1257.6 1699.3L1262.9 1698.7L1268.2 1698.2L1273.5 1697.6L1278.8 1697.1L1284.1 1696.5L1289.4 1696L1294.7 1695.4L1300 1694.9L1305.4 1694.3L1310.7 1693.8L1316 1693.2L1321.3 1692.6L1326.8 1692L1332.3 1691.4L1337.9 1690.7L1343.4 1690.1L1349 1689.4L1354.5 1688.7L1360 1688.1L1365.6 1687.4L1371.1 1686.7L1376.6 1686L1382.2 1685.3L1387.7 1684.6L1393.2 1683.9L1398.8 1683.2L1404.3 1682.5L1409.8 1681.8L1415.4 1681.1L1420.9 1680.3L1426.5 1679.6L1432 1678.9L1437.5 1678.2L1443.1 1677.4L1448.6 1676.7" fill="none" stroke="#800080" stroke-width="4.89" stroke-linejoin="round"/>
<circle cx="175.3" cy="2400.7" r="17.2" fill="#ff0000"/><circle cx="175.3" cy="2400.7" r="17.2" fill="url(#m2C1)"/>
<circle cx="302.6" cy="2156.8" r="17.2" fill="#ff0000"/><circle cx="302.6" cy="2156.8" r="17.2" fill="url(#m2C1)"/>
<circle cx="430" cy="1998.5" r="17.2" fill="#ff0000"/><circle cx="430" cy="1998.5" r="17.2" fill="url(#m2C1)"/>
<circle cx="557.3" cy="1886.3" r="17.2" fill="#ff0000"/><circle cx="557.3" cy="1886.3" r="17.2" fill="url(#m2C1)"/>
<circle cx="684.6" cy="1808.5" r="17.2" fill="#ff0000"/><circle cx="684.6" cy="1808.5" r="17.2" fill="url(#m2C1)"/>
<circle cx="812" cy="1769.3" r="17.2" fill="#ff0000"/><circle cx="812" cy="1769.3" r="17.2" fill="url(#m2C1)"/>
<circle cx="939.3" cy="1741.8" r="17.2" fill="#ff0000"/><circle cx="939.3" cy="1741.8" r="17.2" fill="url(#m2C1)"/>
<circle cx="1066.6" cy="1723.3" r="17.2" fill="#ff0000"/><circle cx="1066.6" cy="1723.3" r="17.2" fill="url(#m2C1)"/>
<circle cx="1193.9" cy="1706.2" r="17.2" fill="#ff0000"/><circle cx="1193.9" cy="1706.2" r="17.2" fill="url(#m2C1)"/>
<circle cx="1321.3" cy="1692.6" r="17.2" fill="#ff0000"/><circle cx="1321.3" cy="1692.6" r="17.2" fill="url(#m2C1)"/>
<circle cx="1448.6" cy="1676.7" r="17.2" fill="#ff0000"/><circle cx="1448.6" cy="1676.7" r="17.2" fill="url(#m2C1)"/>
<path d="M557.3 1861.1V1869.6M557.3 1903V1911.5M546.8 1861.1H567.8M546.8 1911.5H567.8M684.6 1789.1V1791.8M684.6 1825.2V1827.9M674.1 1789.1H695.1M674.1 1827.9H695.1M939.3 1724.2V1725.1M939.3 1758.5V1759.4M928.8 1724.2H949.8M928.8 1759.4H949.8M1066.6 1703.8V1706.6M1066.6 1740V1742.8M1056.1 1703.8H1077.1M1056.1 1742.8H1077.1M1193.9 1682.2V1689.5M1193.9 1722.9V1730.2M1183.4 1682.2H1204.4M1183.4 1730.2H1204.4M1321.3 1674V1675.9M1321.3 1709.3V1711.2M1310.8 1674H1331.8M1310.8 1711.2H1331.8" fill="none" stroke="#b070b8" stroke-width="1.6"/>
<path d="M175.3 2400.7L180.6 2392.7L185.9 2384.7L191.2 2376.8L196.5 2368.8L201.8 2360.9L207.1 2352.9L212.4 2345L217.7 2337.2L223 2329.3L228.4 2321.5L233.7 2313.7L239 2305.9L244.3 2298.2L249.6 2290.6L254.9 2283L260.2 2275.4L265.5 2267.9L270.8 2260.4L276.1 2253.1L281.4 2245.7L286.7 2238.5L292 2231.3L297.3 2224.2L302.6 2217.2L307.9 2210.3L313.2 2203.4L318.5 2196.6L323.9 2189.9L329.2 2183.3L334.5 2176.8L339.8 2170.3L345.1 2163.9L350.4 2157.6L355.7 2151.4L361 2145.2L366.3 2139.1L371.6 2133.1L376.9 2127.2L382.2 2121.3L387.5 2115.4L392.8 2109.7L398.1 2104L403.4 2098.4L408.7 2092.8L414 2087.3L419.3 2081.8L424.7 2076.4L430 2071.1L435.3 2065.8L440.6 2060.6L445.9 2055.4L451.2 2050.3L456.5 2045.3L461.8 2040.3L467.1 2035.4L472.4 2030.6L477.7 2025.8L483 2021.1L488.3 2016.4L493.6 2011.9L498.9 2007.4L504.2 2003L509.5 1998.7L514.8 1994.4L520.2 1990.2L525.5 1986.2L530.8 1982.2L536.1 1978.2L541.4 1974.4L546.7 1970.7L552 1967L557.3 1963.5L562.6 1960L567.9 1956.7L573.2 1953.4L578.5 1950.2L583.8 1947.1L589.1 1944.1L594.4 1941.2L599.7 1938.3L605 1935.5L610.3 1932.8L615.6 1930.2L621 1927.6L626.3 1925.1L631.6 1922.6L636.9 1920.2L642.2 1917.9L647.5 1915.6L652.8 1913.3L658.1 1911.1L663.4 1909L668.7 1906.9L674 1904.8L679.3 1902.8L684.6 1900.8L689.9 1898.8L695.2 1896.9L700.5 1895L705.8 1893.1L711.1 1891.3L716.5 1889.5L721.8 1887.7L727.1 1885.9L732.4 1884.2L737.7 1882.4L743 1880.7L748.3 1879.1L753.6 1877.4L758.9 1875.8L764.2 1874.2L769.5 1872.6L774.8 1871L780.1 1869.4L785.4 1867.9L790.7 1866.4L796 1864.9L801.3 1863.4L806.6 1861.9L812 1860.4L817.3 1858.9L822.6 1857.5L827.9 1856L833.2 1854.6L838.5 1853.2L843.8 1851.8L849.1 1850.4L854.4 1849.1L859.7 1847.7L865 1846.4L870.3 1845.1L875.6 1843.8L880.9 1842.6L886.2 1841.3L891.5 1840.1L896.8 1838.9L902.1 1837.8L907.4 1836.6L912.8 1835.5L918.1 1834.5L923.4 1833.4L928.7 1832.4L934 1831.4L939.3 1830.5L944.6 1829.6L949.9 1828.7L955.2 1827.9L960.5 1827L965.8 1826.3L971.1 1825.5L976.4 1824.7L981.7 1824L987 1823.3L992.3 1822.6L997.6 1822L1002.9 1821.3L1008.3 1820.7L1013.6 1820.1L1018.9 1819.4L1024.2 1818.8L1029.5 1818.2L1034.8 1817.6L1040.1 1817L1045.4 1816.4L1050.7 1815.8L1056 1815.2L1061.3 1814.6L1066.6 1814L1071.9 1813.4L1077.2 1812.7L1082.5 1812.1L1087.8 1811.5L1093.1 1810.8L1098.4 1810.2L1103.7 1809.5L1109.1 1808.9L1114.4 1808.2L1119.7 1807.6L1125 1806.9L1130.3 1806.3L1135.6 1805.6L1140.9 1805L1146.2 1804.4L1151.5 1803.8L1156.8 1803.1L1162.1 1802.5L1167.4 1802L1172.7 1801.4L1178 1800.8L1183.3 1800.3L1188.6 1799.7L1193.9 1799.2L1199.2 1798.7L1204.6 1798.2L1209.9 1797.7L1215.2 1797.3L1220.5 1796.8L1225.8 1796.4L1231.1 1796L1236.4 1795.6L1241.7 1795.2L1247 1794.9L1252.3 1794.5L1257.6 1794.2L1262.9 1793.8L1268.2 1793.5L1273.5 1793.2L1278.8 1792.9L1284.1 1792.6L1289.4 1792.3L1294.7 1792L1300 1791.7L1305.4 1791.5L1310.7 1791.2L1316 1791L1321.3 1790.7L1326.8 1790.4L1332.3 1790.2L1337.9 1789.9L1343.4 1789.7L1349 1789.5L1354.5 1789.2L1360 1789L1365.6 1788.8L1371.1 1788.5L1376.6 1788.3L1382.2 1788.1L1387.7 1787.9L1393.2 1787.7L1398.8 1787.5L1404.3 1787.2L1409.8 1787L1415.4 1786.8L1420.9 1786.6L1426.5 1786.4L1432 1786.2L1437.5 1786L1443.1 1785.8L1448.6 1785.6" fill="none" stroke="#c8640a" stroke-width="4.89" stroke-linejoin="round"/>
<circle cx="175.3" cy="2400.7" r="17.2" fill="#c8640a"/><circle cx="175.3" cy="2400.7" r="17.2" fill="url(#m2C2)"/>
<circle cx="302.6" cy="2217.2" r="17.2" fill="#c8640a"/><circle cx="302.6" cy="2217.2" r="17.2" fill="url(#m2C2)"/>
<circle cx="430" cy="2071.1" r="17.2" fill="#c8640a"/><circle cx="430" cy="2071.1" r="17.2" fill="url(#m2C2)"/>
<circle cx="557.3" cy="1963.5" r="17.2" fill="#c8640a"/><circle cx="557.3" cy="1963.5" r="17.2" fill="url(#m2C2)"/>
<circle cx="684.6" cy="1900.8" r="17.2" fill="#c8640a"/><circle cx="684.6" cy="1900.8" r="17.2" fill="url(#m2C2)"/>
<circle cx="812" cy="1860.4" r="17.2" fill="#c8640a"/><circle cx="812" cy="1860.4" r="17.2" fill="url(#m2C2)"/>
<circle cx="939.3" cy="1830.5" r="17.2" fill="#c8640a"/><circle cx="939.3" cy="1830.5" r="17.2" fill="url(#m2C2)"/>
<circle cx="1066.6" cy="1814" r="17.2" fill="#c8640a"/><circle cx="1066.6" cy="1814" r="17.2" fill="url(#m2C2)"/>
<circle cx="1193.9" cy="1799.2" r="17.2" fill="#c8640a"/><circle cx="1193.9" cy="1799.2" r="17.2" fill="url(#m2C2)"/>
<circle cx="1321.3" cy="1790.7" r="17.2" fill="#c8640a"/><circle cx="1321.3" cy="1790.7" r="17.2" fill="url(#m2C2)"/>
<circle cx="1448.6" cy="1785.6" r="17.2" fill="#c8640a"/><circle cx="1448.6" cy="1785.6" r="17.2" fill="url(#m2C2)"/>
<path d="M557.3 1936.5V1946.8M557.3 1980.2V1990.5M546.8 1936.5H567.8M546.8 1990.5H567.8M812 1840.1V1843.7M812 1877.1V1880.7M801.5 1840.1H822.5M801.5 1880.7H822.5M939.3 1807.5V1813.8M939.3 1847.2V1853.5M928.8 1807.5H949.8M928.8 1853.5H949.8M1056.1 1798H1077.1M1056.1 1830H1077.1M1193.9 1767.4V1782.5M1193.9 1815.9V1831M1183.4 1767.4H1204.4M1183.4 1831H1204.4M1321.3 1771.7V1774M1321.3 1807.4V1809.7M1310.8 1771.7H1331.8M1310.8 1809.7H1331.8M1448.6 1767.8V1768.9M1448.6 1802.3V1803.4M1438.1 1767.8H1459.1M1438.1 1803.4H1459.1" fill="none" stroke="#c89048" stroke-width="1.6"/>
<path d="M175.3 2400.7L180.6 2391L185.9 2381.4L191.2 2371.7L196.5 2362.1L201.8 2352.5L207.1 2343L212.4 2333.4L217.7 2324L223 2314.6L228.4 2305.2L233.7 2296L239 2286.8L244.3 2277.7L249.6 2268.7L254.9 2259.8L260.2 2251L265.5 2242.3L270.8 2233.7L276.1 2225.3L281.4 2217L286.7 2208.8L292 2200.8L297.3 2193L302.6 2185.3L307.9 2177.8L313.2 2170.5L318.5 2163.3L323.9 2156.3L329.2 2149.4L334.5 2142.7L339.8 2136.2L345.1 2129.8L350.4 2123.6L355.7 2117.5L361 2111.5L366.3 2105.7L371.6 2100L376.9 2094.4L382.2 2089L387.5 2083.6L392.8 2078.4L398.1 2073.4L403.4 2068.4L408.7 2063.5L414 2058.8L419.3 2054.1L424.7 2049.6L430 2045.1L435.3 2040.7L440.6 2036.5L445.9 2032.3L451.2 2028.1L456.5 2024.1L461.8 2020.2L467.1 2016.3L472.4 2012.5L477.7 2008.7L483 2005.1L488.3 2001.5L493.6 1997.9L498.9 1994.4L504.2 1991L509.5 1987.6L514.8 1984.2L520.2 1980.9L525.5 1977.7L530.8 1974.5L536.1 1971.3L541.4 1968.2L546.7 1965L552 1962L557.3 1958.9L562.6 1955.9L567.9 1952.8L573.2 1949.9L578.5 1946.9L583.8 1944L589.1 1941.1L594.4 1938.2L599.7 1935.4L605 1932.6L610.3 1929.8L615.6 1927.1L621 1924.4L626.3 1921.7L631.6 1919.1L636.9 1916.6L642.2 1914.1L647.5 1911.6L652.8 1909.2L658.1 1906.9L663.4 1904.6L668.7 1902.4L674 1900.2L679.3 1898.1L684.6 1896L689.9 1894L695.2 1892.1L700.5 1890.2L705.8 1888.4L711.1 1886.6L716.5 1884.9L721.8 1883.2L727.1 1881.6L732.4 1880.1L737.7 1878.6L743 1877.1L748.3 1875.7L753.6 1874.3L758.9 1872.9L764.2 1871.6L769.5 1870.3L774.8 1869.1L780.1 1867.9L785.4 1866.7L790.7 1865.5L796 1864.4L801.3 1863.3L806.6 1862.2L812 1861.1L817.3 1860L822.6 1859L827.9 1858L833.2 1857L838.5 1856L843.8 1855L849.1 1854L854.4 1853.1L859.7 1852.1L865 1851.2L870.3 1850.2L875.6 1849.3L880.9 1848.4L886.2 1847.5L891.5 1846.6L896.8 1845.8L902.1 1844.9L907.4 1844L912.8 1843.2L918.1 1842.3L923.4 1841.4L928.7 1840.6L934 1839.7L939.3 1838.9L944.6 1838.1L949.9 1837.2L955.2 1836.4L960.5 1835.5L965.8 1834.7L971.1 1833.9L976.4 1833.1L981.7 1832.3L987 1831.5L992.3 1830.7L997.6 1829.9L1002.9 1829.1L1008.3 1828.4L1013.6 1827.6L1018.9 1826.9L1024.2 1826.1L1029.5 1825.4L1034.8 1824.7L1040.1 1824.1L1045.4 1823.4L1050.7 1822.7L1056 1822.1L1061.3 1821.5L1066.6 1820.9L1071.9 1820.3L1077.2 1819.8L1082.5 1819.2L1087.8 1818.7L1093.1 1818.2L1098.4 1817.7L1103.7 1817.2L1109.1 1816.8L1114.4 1816.3L1119.7 1815.9L1125 1815.4L1130.3 1815L1135.6 1814.6L1140.9 1814.2L1146.2 1813.8L1151.5 1813.4L1156.8 1813L1162.1 1812.6L1167.4 1812.2L1172.7 1811.8L1178 1811.4L1183.3 1811L1188.6 1810.6L1193.9 1810.2L1199.2 1809.8L1204.6 1809.4L1209.9 1809L1215.2 1808.5L1220.5 1808.1L1225.8 1807.7L1231.1 1807.3L1236.4 1806.8L1241.7 1806.4L1247 1805.9L1252.3 1805.4L1257.6 1805L1262.9 1804.5L1268.2 1804L1273.5 1803.6L1278.8 1803.1L1284.1 1802.6L1289.4 1802.1L1294.7 1801.6L1300 1801L1305.4 1800.5L1310.7 1800L1316 1799.4L1321.3 1798.9L1326.8 1798.3L1332.3 1797.7L1337.9 1797.1L1343.4 1796.5L1349 1795.9L1354.5 1795.3L1360 1794.7L1365.6 1794.1L1371.1 1793.5L1376.6 1792.8L1382.2 1792.2L1387.7 1791.5L1393.2 1790.9L1398.8 1790.2L1404.3 1789.6L1409.8 1788.9L1415.4 1788.3L1420.9 1787.6L1426.5 1787L1432 1786.3L1437.5 1785.6L1443.1 1785L1448.6 1784.3" fill="none" stroke="#3a9a22" stroke-width="4.89" stroke-linejoin="round"/>
<circle cx="175.3" cy="2400.7" r="17.2" fill="#3cb070"/><circle cx="175.3" cy="2400.7" r="17.2" fill="url(#m2E1)"/>
<circle cx="302.6" cy="2185.3" r="17.2" fill="#3cb070"/><circle cx="302.6" cy="2185.3" r="17.2" fill="url(#m2E1)"/>
<circle cx="430" cy="2045.1" r="17.2" fill="#3cb070"/><circle cx="430" cy="2045.1" r="17.2" fill="url(#m2E1)"/>
<circle cx="557.3" cy="1958.9" r="17.2" fill="#3cb070"/><circle cx="557.3" cy="1958.9" r="17.2" fill="url(#m2E1)"/>
<circle cx="684.6" cy="1896" r="17.2" fill="#3cb070"/><circle cx="684.6" cy="1896" r="17.2" fill="url(#m2E1)"/>
<circle cx="812" cy="1861.1" r="17.2" fill="#3cb070"/><circle cx="812" cy="1861.1" r="17.2" fill="url(#m2E1)"/>
<circle cx="939.3" cy="1838.9" r="17.2" fill="#3cb070"/><circle cx="939.3" cy="1838.9" r="17.2" fill="url(#m2E1)"/>
<circle cx="1066.6" cy="1820.9" r="17.2" fill="#3cb070"/><circle cx="1066.6" cy="1820.9" r="17.2" fill="url(#m2E1)"/>
<circle cx="1193.9" cy="1810.2" r="17.2" fill="#3cb070"/><circle cx="1193.9" cy="1810.2" r="17.2" fill="url(#m2E1)"/>
<circle cx="1321.3" cy="1798.9" r="17.2" fill="#3cb070"/><circle cx="1321.3" cy="1798.9" r="17.2" fill="url(#m2E1)"/>
<circle cx="1448.6" cy="1784.3" r="17.2" fill="#3cb070"/><circle cx="1448.6" cy="1784.3" r="17.2" fill="url(#m2E1)"/>
<path d="M430 2001.3V2028.4M430 2061.8V2088.9M419.5 2001.3H440.5M419.5 2088.9H440.5M557.3 1939.3V1942.2M557.3 1975.6V1978.5M546.8 1939.3H567.8M546.8 1978.5H567.8M684.6 1865.9V1879.3M684.6 1912.7V1926.1M674.1 1865.9H695.1M674.1 1926.1H695.1M812 1819.1V1844.4M812 1877.8V1903.1M801.5 1819.1H822.5M801.5 1903.1H822.5M939.3 1801.7V1822.2M939.3 1855.6V1876.1M928.8 1801.7H949.8M928.8 1876.1H949.8M1056.1 1815.9H1077.1M1056.1 1825.9H1077.1M1193.9 1781.4V1793.5M1193.9 1826.9V1839M1183.4 1781.4H1204.4M1183.4 1839H1204.4M1310.8 1794.9H1331.8M1310.8 1802.9H1331.8M1448.6 1747.3V1767.6M1448.6 1801V1821.3M1438.1 1747.3H1459.1M1438.1 1821.3H1459.1" fill="none" stroke="#5a8a50" stroke-width="1.6"/>
<path d="M175.3 2400.7L180.6 2392.7L185.9 2384.7L191.2 2376.7L196.5 2368.8L201.8 2360.8L207.1 2352.8L212.4 2344.9L217.7 2337L223 2329.1L228.4 2321.2L233.7 2313.3L239 2305.5L244.3 2297.7L249.6 2289.9L254.9 2282.2L260.2 2274.5L265.5 2266.9L270.8 2259.3L276.1 2251.7L281.4 2244.2L286.7 2236.7L292 2229.3L297.3 2221.9L302.6 2214.6L307.9 2207.4L313.2 2200.2L318.5 2193.1L323.9 2186L329.2 2179L334.5 2172.2L339.8 2165.4L345.1 2158.7L350.4 2152.1L355.7 2145.6L361 2139.2L366.3 2132.9L371.6 2126.7L376.9 2120.7L382.2 2114.8L387.5 2109L392.8 2103.4L398.1 2097.8L403.4 2092.5L408.7 2087.3L414 2082.2L419.3 2077.3L424.7 2072.6L430 2068L435.3 2063.6L440.6 2059.4L445.9 2055.3L451.2 2051.4L456.5 2047.6L461.8 2044L467.1 2040.5L472.4 2037.1L477.7 2033.9L483 2030.7L488.3 2027.7L493.6 2024.7L498.9 2021.9L504.2 2019.1L509.5 2016.4L514.8 2013.8L520.2 2011.3L525.5 2008.8L530.8 2006.3L536.1 2003.9L541.4 2001.6L546.7 1999.2L552 1996.9L557.3 1994.6L562.6 1992.3L567.9 1990L573.2 1987.8L578.5 1985.5L583.8 1983.3L589.1 1981L594.4 1978.8L599.7 1976.6L605 1974.4L610.3 1972.3L615.6 1970.1L621 1968L626.3 1965.9L631.6 1963.9L636.9 1961.8L642.2 1959.8L647.5 1957.9L652.8 1955.9L658.1 1954L663.4 1952.1L668.7 1950.2L674 1948.4L679.3 1946.6L684.6 1944.9L689.9 1943.2L695.2 1941.5L700.5 1939.9L705.8 1938.3L711.1 1936.8L716.5 1935.2L721.8 1933.7L727.1 1932.3L732.4 1930.9L737.7 1929.5L743 1928.1L748.3 1926.8L753.6 1925.5L758.9 1924.2L764.2 1923L769.5 1921.7L774.8 1920.5L780.1 1919.4L785.4 1918.2L790.7 1917.1L796 1916L801.3 1914.9L806.6 1913.8L812 1912.8L817.3 1911.8L822.6 1910.8L827.9 1909.8L833.2 1908.8L838.5 1907.8L843.8 1906.9L849.1 1906L854.4 1905.1L859.7 1904.2L865 1903.3L870.3 1902.5L875.6 1901.6L880.9 1900.8L886.2 1900L891.5 1899.2L896.8 1898.5L902.1 1897.7L907.4 1897L912.8 1896.3L918.1 1895.6L923.4 1894.9L928.7 1894.2L934 1893.5L939.3 1892.9L944.6 1892.3L949.9 1891.7L955.2 1891.1L960.5 1890.5L965.8 1889.9L971.1 1889.3L976.4 1888.8L981.7 1888.2L987 1887.6L992.3 1887.1L997.6 1886.5L1002.9 1886L1008.3 1885.5L1013.6 1884.9L1018.9 1884.3L1024.2 1883.8L1029.5 1883.2L1034.8 1882.7L1040.1 1882.1L1045.4 1881.5L1050.7 1880.9L1056 1880.3L1061.3 1879.6L1066.6 1879L1071.9 1878.3L1077.2 1877.7L1082.5 1877L1087.8 1876.3L1093.1 1875.6L1098.4 1874.9L1103.7 1874.1L1109.1 1873.4L1114.4 1872.7L1119.7 1872L1125 1871.2L1130.3 1870.5L1135.6 1869.8L1140.9 1869.1L1146.2 1868.4L1151.5 1867.7L1156.8 1867.1L1162.1 1866.4L1167.4 1865.8L1172.7 1865.2L1178 1864.6L1183.3 1864L1188.6 1863.4L1193.9 1862.9L1199.2 1862.4L1204.6 1861.9L1209.9 1861.5L1215.2 1861.1L1220.5 1860.7L1225.8 1860.3L1231.1 1859.9L1236.4 1859.6L1241.7 1859.2L1247 1858.9L1252.3 1858.6L1257.6 1858.3L1262.9 1858L1268.2 1857.7L1273.5 1857.5L1278.8 1857.2L1284.1 1856.9L1289.4 1856.6L1294.7 1856.4L1300 1856.1L1305.4 1855.8L1310.7 1855.5L1316 1855.2L1321.3 1854.9L1326.8 1854.6L1332.3 1854.2L1337.9 1853.9L1343.4 1853.5L1349 1853.1L1354.5 1852.7L1360 1852.3L1365.6 1851.9L1371.1 1851.5L1376.6 1851L1382.2 1850.6L1387.7 1850.2L1393.2 1849.7L1398.8 1849.3L1404.3 1848.8L1409.8 1848.3L1415.4 1847.9L1420.9 1847.4L1426.5 1846.9L1432 1846.4L1437.5 1846L1443.1 1845.5L1448.6 1845" fill="none" stroke="#0000ff" stroke-width="4.89" stroke-linejoin="round"/>
<circle cx="175.3" cy="2400.7" r="17.2" fill="#0000ff"/><circle cx="175.3" cy="2400.7" r="17.2" fill="url(#m2E2)"/>
<circle cx="302.6" cy="2214.6" r="17.2" fill="#0000ff"/><circle cx="302.6" cy="2214.6" r="17.2" fill="url(#m2E2)"/>
<circle cx="430" cy="2068" r="17.2" fill="#0000ff"/><circle cx="430" cy="2068" r="17.2" fill="url(#m2E2)"/>
<circle cx="557.3" cy="1994.6" r="17.2" fill="#0000ff"/><circle cx="557.3" cy="1994.6" r="17.2" fill="url(#m2E2)"/>
<circle cx="684.6" cy="1944.9" r="17.2" fill="#0000ff"/><circle cx="684.6" cy="1944.9" r="17.2" fill="url(#m2E2)"/>
<circle cx="812" cy="1912.8" r="17.2" fill="#0000ff"/><circle cx="812" cy="1912.8" r="17.2" fill="url(#m2E2)"/>
<circle cx="939.3" cy="1892.9" r="17.2" fill="#0000ff"/><circle cx="939.3" cy="1892.9" r="17.2" fill="url(#m2E2)"/>
<circle cx="1066.6" cy="1879" r="17.2" fill="#0000ff"/><circle cx="1066.6" cy="1879" r="17.2" fill="url(#m2E2)"/>
<circle cx="1193.9" cy="1862.9" r="17.2" fill="#0000ff"/><circle cx="1193.9" cy="1862.9" r="17.2" fill="url(#m2E2)"/>
<circle cx="1321.3" cy="1854.9" r="17.2" fill="#0000ff"/><circle cx="1321.3" cy="1854.9" r="17.2" fill="url(#m2E2)"/>
<circle cx="1448.6" cy="1845" r="17.2" fill="#0000ff"/><circle cx="1448.6" cy="1845" r="17.2" fill="url(#m2E2)"/>
<path d="M302.6 2166.6V2197.9M302.6 2231.3V2262.6M292.1 2166.6H313.1M292.1 2262.6H313.1M684.6 1920.7V1928.2M684.6 1961.6V1969.1M674.1 1920.7H695.1M674.1 1969.1H695.1M939.3 1849.7V1876.2M939.3 1909.6V1936.1M928.8 1849.7H949.8M928.8 1936.1H949.8M1066.6 1835.7V1862.3M1066.6 1895.7V1922.3M1056.1 1835.7H1077.1M1056.1 1922.3H1077.1M1193.9 1837.9V1846.2M1193.9 1879.6V1887.9M1183.4 1837.9H1204.4M1183.4 1887.9H1204.4M1321.3 1807.1V1838.2M1321.3 1871.6V1902.7M1310.8 1807.1H1331.8M1310.8 1902.7H1331.8M1448.6 1797.3V1828.3M1448.6 1861.7V1892.7M1438.1 1797.3H1459.1M1438.1 1892.7H1459.1" fill="none" stroke="#3a3ae0" stroke-width="1.6"/>
</g>
<rect x="175.3" y="1325.6" width="1337" height="1075.1" fill="none" stroke="#000" stroke-width="4.0"/>
<path d="M239 2400.7v-10.5M302.6 2400.7v-21.5M366.3 2400.7v-10.5M430 2400.7v-21.5M493.6 2400.7v-10.5M557.3 2400.7v-21.5M621 2400.7v-10.5M684.6 2400.7v-21.5M748.3 2400.7v-10.5M812 2400.7v-21.5M875.6 2400.7v-10.5M939.3 2400.7v-21.5M1002.9 2400.7v-10.5M1066.6 2400.7v-21.5M1130.3 2400.7v-10.5M1193.9 2400.7v-21.5M1257.6 2400.7v-10.5M1321.3 2400.7v-21.5M1384.9 2400.7v-10.5M1448.6 2400.7v-21.5M175.3 2161.8h21.5M175.3 1922.9h21.5M175.3 1684h21.5M175.3 1445.1h21.5M175.3 2281.2h10.5M175.3 2042.3h10.5M175.3 1803.4h10.5M175.3 1564.5h10.5" fill="none" stroke="#000" stroke-width="3.8"/>
<g font-family='"Liberation Serif","Times New Roman",serif' font-size="46.5" fill="#000">
<text transform="translate(175.3 2458.4) scale(1 1.08)" text-anchor="middle">0</text>
<text transform="translate(302.6 2458.4) scale(1 1.08)" text-anchor="middle">20</text>
<text transform="translate(430 2458.4) scale(1 1.08)" text-anchor="middle">40</text>
<text transform="translate(557.3 2458.4) scale(1 1.08)" text-anchor="middle">60</text>
<text transform="translate(684.6 2458.4) scale(1 1.08)" text-anchor="middle">80</text>
<text transform="translate(812 2458.4) scale(1 1.08)" text-anchor="middle">100</text>
<text transform="translate(939.3 2458.4) scale(1 1.08)" text-anchor="middle">120</text>
<text transform="translate(1066.6 2458.4) scale(1 1.08)" text-anchor="middle">140</text>
<text transform="translate(1193.9 2458.4) scale(1 1.08)" text-anchor="middle">160</text>
<text transform="translate(1321.3 2458.4) scale(1 1.08)" text-anchor="middle">180</text>
<text transform="translate(1448.6 2458.4) scale(1 1.08)" text-anchor="middle">200</text>
<text transform="translate(153.3 2414.9) scale(1 1.08)" text-anchor="end">0.0</text>
<text transform="translate(153.3 2176) scale(1 1.08)" text-anchor="end">0.1</text>
<text transform="translate(153.3 1937.1) scale(1 1.08)" text-anchor="end">0.2</text>
<text transform="translate(153.3 1698.2) scale(1 1.08)" text-anchor="end">0.3</text>
<text transform="translate(153.3 1459.3) scale(1 1.08)" text-anchor="end">0.4</text>
</g>
<text x="829" y="2543.8" text-anchor="middle" font-family='"Liberation Serif","Times New Roman",serif' font-size="56.3" fill="#000">Time (h)</text>
<text transform="translate(71.6 1863.6) rotate(-90) scale(1 1.04)" text-anchor="middle" font-family='"Liberation Serif","Times New Roman",serif' font-size="56.3" fill="#000">Mass gain (mg/cm<tspan dy="-22" font-size="36.5">2</tspan><tspan dy="22">)</tspan></text>
<g font-family='"Liberation Serif","Times New Roman",serif' font-size="39.8" fill="#000">
<path d="M212.9 1371.8H240M282.4 1371.8H309.5" stroke="#0c2c63" stroke-width="4.7"/>
<circle cx="261.2" cy="1371.8" r="17.2" fill="#0c2c63"/><circle cx="261.2" cy="1371.8" r="17.2" fill="url(#m2N0)"/>
<text x="316.4" y="1384.9">N0-800°C</text>
<path d="M212.9 1422.3H240M282.4 1422.3H309.5" stroke="#800080" stroke-width="4.7"/>
<circle cx="261.2" cy="1422.3" r="17.2" fill="#ff0000"/><circle cx="261.2" cy="1422.3" r="17.2" fill="url(#m2C1)"/>
<text x="316.4" y="1435.4">C1-800°C</text>
<path d="M212.9 1472.8H240M282.4 1472.8H309.5" stroke="#c8640a" stroke-width="4.7"/>
<circle cx="261.2" cy="1472.8" r="17.2" fill="#c8640a"/><circle cx="261.2" cy="1472.8" r="17.2" fill="url(#m2C2)"/>
<text x="316.4" y="1485.9">C2-800°C</text>
<path d="M212.9 1523.3H240M282.4 1523.3H309.5" stroke="#3a9a22" stroke-width="4.7"/>
<circle cx="261.2" cy="1523.3" r="17.2" fill="#3cb070"/><circle cx="261.2" cy="1523.3" r="17.2" fill="url(#m2E1)"/>
<text x="316.4" y="1536.4">E1-800°C</text>
<path d="M212.9 1573.8H240M282.4 1573.8H309.5" stroke="#0000ff" stroke-width="4.7"/>
<circle cx="261.2" cy="1573.8" r="17.2" fill="#0000ff"/><circle cx="261.2" cy="1573.8" r="17.2" fill="url(#m2E2)"/>
<text x="316.4" y="1586.9">E2-800°C</text>
</g>
</g>
<g id="chart3">
<rect x="175.3" y="2632.6" width="1337" height="1076" fill="url(#bg3)"/>
<g clip-path="url(#cl3)">
<path d="M175.3 3708.6C205 3627.8 272.9 3421.5 302.6 3362.1C332.3 3302.7 400.2 3233.9 430 3199.7C459.7 3165.5 527.6 3093.6 557.3 3069.1C587 3044.6 654.9 3004.4 684.6 2989.3C714.3 2974.2 782.2 2948.9 812 2939.6C841.7 2930.3 909.6 2916 939.3 2909.8C969 2903.6 1036.9 2891.4 1066.6 2886.4C1096.3 2881.4 1164.2 2870.9 1193.9 2867.2C1223.7 2863.5 1291.6 2857.6 1321.3 2855.1C1351 2852.6 1418.9 2848 1448.6 2845.9" fill="none" stroke="#0c2c63" stroke-width="4.89" stroke-linejoin="round"/>
<circle cx="175.3" cy="3708.6" r="17.2" fill="#0c2c63"/><circle cx="175.3" cy="3708.6" r="17.2" fill="url(#m3N0)"/>
<circle cx="302.6" cy="3362.1" r="17.2" fill="#0c2c63"/><circle cx="302.6" cy="3362.1" r="17.2" fill="url(#m3N0)"/>
<circle cx="430" cy="3199.7" r="17.2" fill="#0c2c63"/><circle cx="430" cy="3199.7" r="17.2" fill="url(#m3N0)"/>
<circle cx="557.3" cy="3069.1" r="17.2" fill="#0c2c63"/><circle cx="557.3" cy="3069.1" r="17.2" fill="url(#m3N0)"/>
<circle cx="684.6" cy="2989.3" r="17.2" fill="#0c2c63"/><circle cx="684.6" cy="2989.3" r="17.2" fill="url(#m3N0)"/>
<circle cx="812" cy="2939.6" r="17.2" fill="#0c2c63"/><circle cx="812" cy="2939.6" r="17.2" fill="url(#m3N0)"/>
<circle cx="939.3" cy="2909.8" r="17.2" fill="#0c2c63"/><circle cx="939.3" cy="2909.8" r="17.2" fill="url(#m3N0)"/>
<circle cx="1066.6" cy="2886.4" r="17.2" fill="#0c2c63"/><circle cx="1066.6" cy="2886.4" r="17.2" fill="url(#m3N0)"/>
<circle cx="1193.9" cy="2867.2" r="17.2" fill="#0c2c63"/><circle cx="1193.9" cy="2867.2" r="17.2" fill="url(#m3N0)"/>
<circle cx="1321.3" cy="2855.1" r="17.2" fill="#0c2c63"/><circle cx="1321.3" cy="2855.1" r="17.2" fill="url(#m3N0)"/>
<circle cx="1448.6" cy="2845.9" r="17.2" fill="#0c2c63"/><circle cx="1448.6" cy="2845.9" r="17.2" fill="url(#m3N0)"/>
<path d="M430 3180.7V3183M430 3216.4V3218.7M419.5 3180.7H440.5M419.5 3218.7H440.5M557.3 3049.7V3052.4M557.3 3085.8V3088.5M546.8 3049.7H567.8M546.8 3088.5H567.8M1310.8 2838.1H1331.8M1310.8 2872.1H1331.8" fill="none" stroke="#2a6f8c" stroke-width="1.6"/>
<path d="M175.3 3708.6C205 3658.3 272.9 3533.2 302.6 3492.9C332.3 3452.6 400.2 3387.3 430 3362.8C459.7 3338.3 527.6 3299.3 557.3 3283.2C587 3267.1 654.9 3237.8 684.6 3224.6C714.3 3211.4 782.2 3181.2 812 3170.3C841.7 3159.4 909.6 3138 939.3 3130.8C969 3123.6 1036.9 3114.5 1066.6 3108.6C1096.3 3102.7 1164.2 3085.2 1193.9 3079.8C1223.7 3074.4 1291.6 3065.8 1321.3 3062.1C1351 3058.4 1418.9 3051.3 1448.6 3048" fill="none" stroke="#ff0000" stroke-width="4.89" stroke-linejoin="round"/>
<circle cx="175.3" cy="3708.6" r="17.2" fill="#ff0000"/><circle cx="175.3" cy="3708.6" r="17.2" fill="url(#m3C1)"/>
<circle cx="302.6" cy="3492.9" r="17.2" fill="#ff0000"/><circle cx="302.6" cy="3492.9" r="17.2" fill="url(#m3C1)"/>
<circle cx="430" cy="3362.8" r="17.2" fill="#ff0000"/><circle cx="430" cy="3362.8" r="17.2" fill="url(#m3C1)"/>
<circle cx="557.3" cy="3283.2" r="17.2" fill="#ff0000"/><circle cx="557.3" cy="3283.2" r="17.2" fill="url(#m3C1)"/>
<circle cx="684.6" cy="3224.6" r="17.2" fill="#ff0000"/><circle cx="684.6" cy="3224.6" r="17.2" fill="url(#m3C1)"/>
<circle cx="812" cy="3170.3" r="17.2" fill="#ff0000"/><circle cx="812" cy="3170.3" r="17.2" fill="url(#m3C1)"/>
<circle cx="939.3" cy="3130.8" r="17.2" fill="#ff0000"/><circle cx="939.3" cy="3130.8" r="17.2" fill="url(#m3C1)"/>
<circle cx="1066.6" cy="3108.6" r="17.2" fill="#ff0000"/><circle cx="1066.6" cy="3108.6" r="17.2" fill="url(#m3C1)"/>
<circle cx="1193.9" cy="3079.8" r="17.2" fill="#ff0000"/><circle cx="1193.9" cy="3079.8" r="17.2" fill="url(#m3C1)"/>
<circle cx="1321.3" cy="3062.1" r="17.2" fill="#ff0000"/><circle cx="1321.3" cy="3062.1" r="17.2" fill="url(#m3C1)"/>
<circle cx="1448.6" cy="3048" r="17.2" fill="#ff0000"/><circle cx="1448.6" cy="3048" r="17.2" fill="url(#m3C1)"/>
<path d="M302.6 3462.9V3476.2M302.6 3509.6V3522.9M292.1 3462.9H313.1M292.1 3522.9H313.1M557.3 3253.2V3266.5M557.3 3299.9V3313.2M546.8 3253.2H567.8M546.8 3313.2H567.8M812 3145.3V3153.6M812 3187V3195.3M801.5 3145.3H822.5M801.5 3195.3H822.5M1066.6 3078.8V3091.9M1066.6 3125.3V3138.4M1056.1 3078.8H1077.1M1056.1 3138.4H1077.1M1193.9 3041.6V3063.1M1193.9 3096.5V3118M1183.4 3041.6H1204.4M1183.4 3118H1204.4M1321.3 3032.1V3045.4M1321.3 3078.8V3092.1M1310.8 3032.1H1331.8M1310.8 3092.1H1331.8M1448.6 3027V3031.3M1448.6 3064.7V3069M1438.1 3027H1459.1M1438.1 3069H1459.1" fill="none" stroke="#a0409c" stroke-width="1.6"/>
<path d="M175.3 3708.6C205 3656.2 272.9 3523.8 302.6 3483.9C332.3 3444 400.2 3388.2 430 3366.7C459.7 3345.2 527.6 3314.2 557.3 3299.8C587 3285.5 654.9 3255.2 684.6 3243.7C714.3 3232.2 782.2 3209.5 812 3201C841.7 3192.5 909.6 3179 939.3 3171C969 3163 1036.9 3139.7 1066.6 3132.8C1096.3 3125.9 1164.2 3115.9 1193.9 3111.7C1223.7 3107.5 1291.6 3100.2 1321.3 3097C1351 3093.8 1418.9 3087.2 1448.6 3084.2" fill="none" stroke="#c0600a" stroke-width="4.89" stroke-linejoin="round"/>
<circle cx="175.3" cy="3708.6" r="17.2" fill="#c0600a"/><circle cx="175.3" cy="3708.6" r="17.2" fill="url(#m3C2)"/>
<circle cx="302.6" cy="3483.9" r="17.2" fill="#c0600a"/><circle cx="302.6" cy="3483.9" r="17.2" fill="url(#m3C2)"/>
<circle cx="430" cy="3366.7" r="17.2" fill="#c0600a"/><circle cx="430" cy="3366.7" r="17.2" fill="url(#m3C2)"/>
<circle cx="557.3" cy="3299.8" r="17.2" fill="#c0600a"/><circle cx="557.3" cy="3299.8" r="17.2" fill="url(#m3C2)"/>
<circle cx="684.6" cy="3243.7" r="17.2" fill="#c0600a"/><circle cx="684.6" cy="3243.7" r="17.2" fill="url(#m3C2)"/>
<circle cx="812" cy="3201" r="17.2" fill="#c0600a"/><circle cx="812" cy="3201" r="17.2" fill="url(#m3C2)"/>
<circle cx="939.3" cy="3171" r="17.2" fill="#c0600a"/><circle cx="939.3" cy="3171" r="17.2" fill="url(#m3C2)"/>
<circle cx="1066.6" cy="3132.8" r="17.2" fill="#c0600a"/><circle cx="1066.6" cy="3132.8" r="17.2" fill="url(#m3C2)"/>
<circle cx="1193.9" cy="3111.7" r="17.2" fill="#c0600a"/><circle cx="1193.9" cy="3111.7" r="17.2" fill="url(#m3C2)"/>
<circle cx="1321.3" cy="3097" r="17.2" fill="#c0600a"/><circle cx="1321.3" cy="3097" r="17.2" fill="url(#m3C2)"/>
<circle cx="1448.6" cy="3084.2" r="17.2" fill="#c0600a"/><circle cx="1448.6" cy="3084.2" r="17.2" fill="url(#m3C2)"/>
<path d="M175.3 3708.6C205 3661.4 272.9 3545.3 302.6 3506.5C332.3 3467.7 400.2 3399.4 430 3375.6C459.7 3351.8 527.6 3317.2 557.3 3302.4C587 3287.6 654.9 3260.9 684.6 3249.1C714.3 3237.3 782.2 3210 812 3200.9C841.7 3191.8 909.6 3176.7 939.3 3170.8C969 3164.9 1036.9 3154.7 1066.6 3150.7C1096.3 3146.7 1164.2 3140.2 1193.9 3136.7C1223.7 3133.2 1291.6 3123.8 1321.3 3120.7C1351 3117.6 1418.9 3112.9 1448.6 3110.5" fill="none" stroke="#3a9a22" stroke-width="4.89" stroke-linejoin="round"/>
<circle cx="175.3" cy="3708.6" r="17.2" fill="#3a9a22"/><circle cx="175.3" cy="3708.6" r="17.2" fill="url(#m3E1)"/>
<circle cx="302.6" cy="3506.5" r="17.2" fill="#3a9a22"/><circle cx="302.6" cy="3506.5" r="17.2" fill="url(#m3E1)"/>
<circle cx="430" cy="3375.6" r="17.2" fill="#3a9a22"/><circle cx="430" cy="3375.6" r="17.2" fill="url(#m3E1)"/>
<circle cx="557.3" cy="3302.4" r="17.2" fill="#3a9a22"/><circle cx="557.3" cy="3302.4" r="17.2" fill="url(#m3E1)"/>
<circle cx="684.6" cy="3249.1" r="17.2" fill="#3a9a22"/><circle cx="684.6" cy="3249.1" r="17.2" fill="url(#m3E1)"/>
<circle cx="812" cy="3200.9" r="17.2" fill="#3a9a22"/><circle cx="812" cy="3200.9" r="17.2" fill="url(#m3E1)"/>
<circle cx="939.3" cy="3170.8" r="17.2" fill="#3a9a22"/><circle cx="939.3" cy="3170.8" r="17.2" fill="url(#m3E1)"/>
<circle cx="1066.6" cy="3150.7" r="17.2" fill="#3a9a22"/><circle cx="1066.6" cy="3150.7" r="17.2" fill="url(#m3E1)"/>
<circle cx="1193.9" cy="3136.7" r="17.2" fill="#3a9a22"/><circle cx="1193.9" cy="3136.7" r="17.2" fill="url(#m3E1)"/>
<circle cx="1321.3" cy="3120.7" r="17.2" fill="#3a9a22"/><circle cx="1321.3" cy="3120.7" r="17.2" fill="url(#m3E1)"/>
<circle cx="1448.6" cy="3110.5" r="17.2" fill="#3a9a22"/><circle cx="1448.6" cy="3110.5" r="17.2" fill="url(#m3E1)"/>
<path d="M302.6 3480.1V3489.8M302.6 3523.2V3532.9M292.1 3480.1H313.1M292.1 3532.9H313.1M557.3 3276.9V3285.7M557.3 3319.1V3327.9M546.8 3276.9H567.8M546.8 3327.9H567.8M684.6 3205.5V3232.4M684.6 3265.8V3292.7M674.1 3205.5H695.1M674.1 3292.7H695.1M939.3 3126.6V3154.1M939.3 3187.5V3215M928.8 3126.6H949.8M928.8 3215H949.8" fill="none" stroke="#4a9a40" stroke-width="1.6"/>
<path d="M175.3 3708.6C205 3662.8 272.9 3549 302.6 3512.2C332.3 3475.4 400.2 3417.4 430 3393.4C459.7 3369.4 527.6 3321.9 557.3 3306.2C587 3290.5 654.9 3269.7 684.6 3259C714.3 3248.3 782.2 3222.3 812 3214.7C841.7 3207.1 909.6 3199.3 939.3 3194.2C969 3189.1 1036.9 3174.1 1066.6 3170.6C1096.3 3167.1 1164.2 3166.9 1193.9 3164.3C1223.7 3161.7 1291.6 3151.8 1321.3 3148.7C1351 3145.6 1418.9 3140.2 1448.6 3137.6" fill="none" stroke="#0000ff" stroke-width="4.89" stroke-linejoin="round"/>
<circle cx="175.3" cy="3708.6" r="17.2" fill="#0000ff"/><circle cx="175.3" cy="3708.6" r="17.2" fill="url(#m3E2)"/>
<circle cx="302.6" cy="3512.2" r="17.2" fill="#0000ff"/><circle cx="302.6" cy="3512.2" r="17.2" fill="url(#m3E2)"/>
<circle cx="430" cy="3393.4" r="17.2" fill="#0000ff"/><circle cx="430" cy="3393.4" r="17.2" fill="url(#m3E2)"/>
<circle cx="557.3" cy="3306.2" r="17.2" fill="#0000ff"/><circle cx="557.3" cy="3306.2" r="17.2" fill="url(#m3E2)"/>
<circle cx="684.6" cy="3259" r="17.2" fill="#0000ff"/><circle cx="684.6" cy="3259" r="17.2" fill="url(#m3E2)"/>
<circle cx="812" cy="3214.7" r="17.2" fill="#0000ff"/><circle cx="812" cy="3214.7" r="17.2" fill="url(#m3E2)"/>
<circle cx="939.3" cy="3194.2" r="17.2" fill="#0000ff"/><circle cx="939.3" cy="3194.2" r="17.2" fill="url(#m3E2)"/>
<circle cx="1066.6" cy="3170.6" r="17.2" fill="#0000ff"/><circle cx="1066.6" cy="3170.6" r="17.2" fill="url(#m3E2)"/>
<circle cx="1193.9" cy="3164.3" r="17.2" fill="#0000ff"/><circle cx="1193.9" cy="3164.3" r="17.2" fill="url(#m3E2)"/>
<circle cx="1321.3" cy="3148.7" r="17.2" fill="#0000ff"/><circle cx="1321.3" cy="3148.7" r="17.2" fill="url(#m3E2)"/>
<circle cx="1448.6" cy="3137.6" r="17.2" fill="#0000ff"/><circle cx="1448.6" cy="3137.6" r="17.2" fill="url(#m3E2)"/>
<path d="M302.6 3467.6V3495.5M302.6 3528.9V3556.8M292.1 3467.6H313.1M292.1 3556.8H313.1M430 3367.1V3376.7M430 3410.1V3419.7M419.5 3367.1H440.5M419.5 3419.7H440.5M684.6 3237.3V3242.3M684.6 3275.7V3280.7M674.1 3237.3H695.1M674.1 3280.7H695.1M812 3175.6V3198M812 3231.4V3253.8M801.5 3175.6H822.5M801.5 3253.8H822.5M939.3 3150.8V3177.5M939.3 3210.9V3237.6M928.8 3150.8H949.8M928.8 3237.6H949.8M1066.6 3148.2V3153.9M1066.6 3187.3V3193M1056.1 3148.2H1077.1M1056.1 3193H1077.1M1193.9 3120.7V3147.6M1193.9 3181V3207.9M1183.4 3120.7H1204.4M1183.4 3207.9H1204.4M1321.3 3109.2V3132M1321.3 3165.4V3188.2M1310.8 3109.2H1331.8M1310.8 3188.2H1331.8M1448.6 3106.9V3120.9M1448.6 3154.3V3168.3M1438.1 3106.9H1459.1M1438.1 3168.3H1459.1" fill="none" stroke="#3a3ae0" stroke-width="1.6"/>
</g>
<rect x="175.3" y="2632.6" width="1337" height="1076" fill="none" stroke="#000" stroke-width="4.0"/>
<path d="M239 3708.6v-10.5M302.6 3708.6v-21.5M366.3 3708.6v-10.5M430 3708.6v-21.5M493.6 3708.6v-10.5M557.3 3708.6v-21.5M621 3708.6v-10.5M684.6 3708.6v-21.5M748.3 3708.6v-10.5M812 3708.6v-21.5M875.6 3708.6v-10.5M939.3 3708.6v-21.5M1002.9 3708.6v-10.5M1066.6 3708.6v-21.5M1130.3 3708.6v-10.5M1193.9 3708.6v-21.5M1257.6 3708.6v-10.5M1321.3 3708.6v-21.5M1384.9 3708.6v-10.5M1448.6 3708.6v-21.5M175.3 3563.6h21.5M175.3 3418.6h21.5M175.3 3273.6h21.5M175.3 3128.5h21.5M175.3 2983.5h21.5M175.3 2838.5h21.5M175.3 2693.5h21.5M175.3 3636.1h10.5M175.3 3491.1h10.5M175.3 3346.1h10.5M175.3 3201.1h10.5M175.3 3056h10.5M175.3 2911h10.5M175.3 2766h10.5" fill="none" stroke="#000" stroke-width="3.8"/>
<g font-family='"Liberation Serif","Times New Roman",serif' font-size="46.5" fill="#000">
<text transform="translate(175.3 3768) scale(1 1.08)" text-anchor="middle">0</text>
<text transform="translate(302.6 3768) scale(1 1.08)" text-anchor="middle">20</text>
<text transform="translate(430 3768) scale(1 1.08)" text-anchor="middle">40</text>
<text transform="translate(557.3 3768) scale(1 1.08)" text-anchor="middle">60</text>
<text transform="translate(684.6 3768) scale(1 1.08)" text-anchor="middle">80</text>
<text transform="translate(812 3768) scale(1 1.08)" text-anchor="middle">100</text>
<text transform="translate(939.3 3768) scale(1 1.08)" text-anchor="middle">120</text>
<text transform="translate(1066.6 3768) scale(1 1.08)" text-anchor="middle">140</text>
<text transform="translate(1193.9 3768) scale(1 1.08)" text-anchor="middle">160</text>
<text transform="translate(1321.3 3768) scale(1 1.08)" text-anchor="middle">180</text>
<text transform="translate(1448.6 3768) scale(1 1.08)" text-anchor="middle">200</text>
<text transform="translate(153.3 3722.8) scale(1 1.08)" text-anchor="end">0.0</text>
<text transform="translate(153.3 3577.8) scale(1 1.08)" text-anchor="end">0.1</text>
<text transform="translate(153.3 3432.8) scale(1 1.08)" text-anchor="end">0.2</text>
<text transform="translate(153.3 3287.8) scale(1 1.08)" text-anchor="end">0.3</text>
<text transform="translate(153.3 3142.7) scale(1 1.08)" text-anchor="end">0.4</text>
<text transform="translate(153.3 2997.7) scale(1 1.08)" text-anchor="end">0.5</text>
<text transform="translate(153.3 2852.7) scale(1 1.08)" text-anchor="end">0.6</text>
<text transform="translate(153.3 2707.7) scale(1 1.08)" text-anchor="end">0.7</text>
</g>
<text x="843.6" y="3859" text-anchor="middle" font-family='"Liberation Serif","Times New Roman",serif' font-size="56.3" fill="#000">Time (h)</text>
<text transform="translate(71.6 3171.1) rotate(-90) scale(1 1.04)" text-anchor="middle" font-family='"Liberation Serif","Times New Roman",serif' font-size="56.3" fill="#000">Mass gain (mg/cm<tspan dy="-22" font-size="36.5">2</tspan><tspan dy="22">)</tspan></text>
<g font-family='"Liberation Serif","Times New Roman",serif' font-size="39.8" fill="#000">
<path d="M222.3 2673.7H249.4M291.8 2673.7H318.9" stroke="#0c2c63" stroke-width="4.7"/>
<circle cx="270.6" cy="2673.7" r="17.2" fill="#0c2c63"/><circle cx="270.6" cy="2673.7" r="17.2" fill="url(#m3N0)"/>
<text x="328.1" y="2686.8">N0-900°C</text>
<path d="M222.3 2724.4H249.4M291.8 2724.4H318.9" stroke="#ff0000" stroke-width="4.7"/>
<circle cx="270.6" cy="2724.4" r="17.2" fill="#ff0000"/><circle cx="270.6" cy="2724.4" r="17.2" fill="url(#m3C1)"/>
<text x="328.1" y="2737.5">C1-900°C</text>
<path d="M222.3 2775.1H249.4M291.8 2775.1H318.9" stroke="#c0600a" stroke-width="4.7"/>
<circle cx="270.6" cy="2775.1" r="17.2" fill="#c0600a"/><circle cx="270.6" cy="2775.1" r="17.2" fill="url(#m3C2)"/>
<text x="328.1" y="2788.2">C2-900°C</text>
<path d="M222.3 2825.8H249.4M291.8 2825.8H318.9" stroke="#3a9a22" stroke-width="4.7"/>
<circle cx="270.6" cy="2825.8" r="17.2" fill="#3a9a22"/><circle cx="270.6" cy="2825.8" r="17.2" fill="url(#m3E1)"/>
<text x="328.1" y="2838.9">E1-900°C</text>
<path d="M222.3 2876.5H249.4M291.8 2876.5H318.9" stroke="#0000ff" stroke-width="4.7"/>
<circle cx="270.6" cy="2876.5" r="17.2" fill="#0000ff"/><circle cx="270.6" cy="2876.5" r="17.2" fill="url(#m3E2)"/>
<text x="328.1" y="2889.6">E1-900°C</text>
</g>
</g>
</svg>
</body></html>
